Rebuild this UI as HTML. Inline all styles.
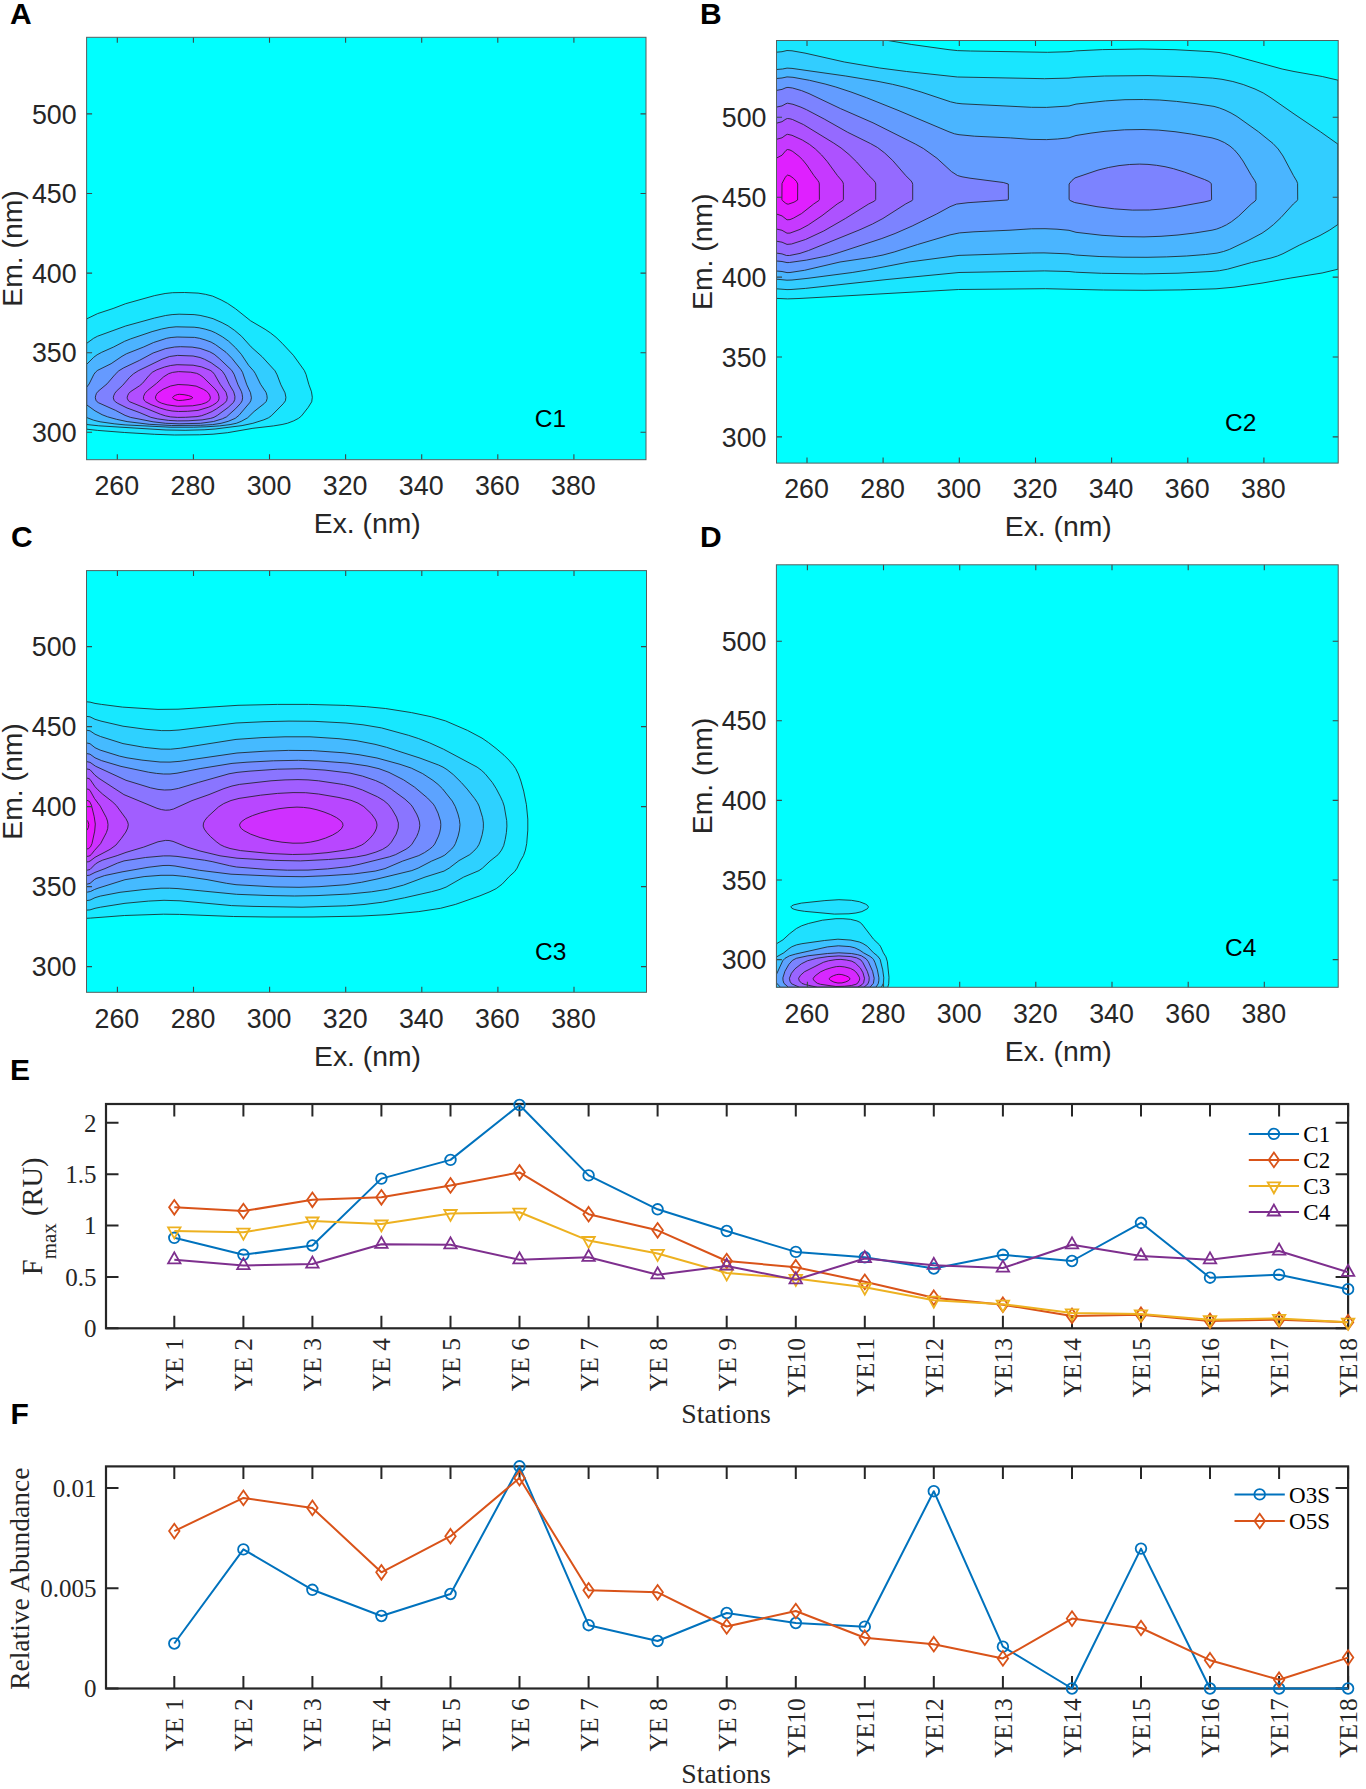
<!DOCTYPE html><html><head><meta charset="utf-8"><style>html,body{margin:0;padding:0;background:#fff;}svg{display:block;}</style></head><body>
<svg width="1366" height="1789" viewBox="0 0 1366 1789">
<rect width="1366" height="1789" fill="#fff"/>
<g font-family="Liberation Sans, sans-serif" font-size="26.8" fill="#262626"><clipPath id="clipA"><rect x="86.6" y="37.3" width="559.4" height="422.4"/></clipPath><rect x="86.6" y="37.3" width="559.4" height="422.4" fill="#00ffff"/><g clip-path="url(#clipA)"><path d="M199.6 434.8L174.6 435.0L154.6 434.3L124.6 432.5L97.6 430.4L86.6 429.2L86.2 397.8L86.6 318.9L97.6 313.6L113.1 308.5L125.6 303.7L154.6 295.6L165.1 293.5L172.6 292.7L184.6 292.5L198.1 293.1L205.4 294.3L212.6 296.1L221.1 299.9L227.6 303.4L235.6 308.8L250.6 320.8L265.1 329.3L270.6 333.0L276.0 337.3L282.2 343.3L293.4 355.3L304.2 370.3L306.0 374.3L308.8 384.3L311.5 391.8L312.3 397.3L311.7 401.8L308.1 407.5L301.6 415.8L298.6 418.3L293.6 420.9L287.6 423.2L282.1 424.5L273.6 425.9L252.9 428.3L227.6 432.7L213.1 434.2L199.6 434.8Z" fill="#19e6ff" fill-rule="evenodd"/><path d="M204.1 429.8L185.1 430.3L166.1 430.0L98.7 425.8L86.6 424.5L86.3 397.8L86.6 343.4L93.6 338.3L97.6 336.2L125.6 326.0L154.6 318.0L165.6 315.5L172.1 314.6L179.1 314.2L194.1 314.6L200.1 315.4L207.1 317.0L213.1 318.7L222.1 322.7L228.1 325.9L234.6 330.4L241.6 336.3L251.1 346.9L262.2 356.8L275.0 370.8L277.1 374.8L280.9 384.8L285.0 392.8L285.9 397.3L285.4 400.8L283.2 403.8L271.3 415.8L268.5 417.8L263.9 419.8L252.9 423.3L242.1 425.6L215.1 429.0L204.1 429.8Z" fill="#32cdff" fill-rule="evenodd"/><path d="M206.1 426.8L193.6 427.2L170.1 427.2L125.1 424.9L114.2 423.8L100.1 421.8L93.6 420.2L86.6 417.5L86.6 364.4L93.7 357.3L97.1 354.8L101.7 352.3L113.6 347.0L124.6 341.3L130.6 338.9L152.1 331.6L161.6 329.0L169.1 327.5L176.1 326.8L194.1 327.2L199.1 327.8L205.1 329.1L211.1 330.9L215.4 332.8L222.6 336.9L228.6 341.2L235.6 347.8L241.3 354.3L248.6 365.3L253.5 370.8L255.2 373.3L260.6 384.3L266.0 392.3L266.9 395.3L267.2 398.3L266.3 401.3L264.5 403.3L254.1 411.5L247.6 417.8L241.3 421.3L236.3 423.3L230.1 424.6L219.6 425.9L206.1 426.8Z" fill="#4cb3ff" fill-rule="evenodd"/><path d="M200.6 425.3L171.6 425.5L149.3 424.3L127.1 421.6L116.5 419.3L107.5 416.8L102.1 414.7L95.1 410.9L86.6 404.8L86.6 387.3L89.1 384.0L93.9 374.3L95.6 372.1L97.7 370.3L111.1 363.7L122.0 356.3L126.4 353.8L143.6 347.0L153.6 342.5L166.6 338.3L171.1 337.5L177.1 337.0L194.6 337.4L199.6 338.3L205.1 339.9L211.1 342.1L215.6 344.7L226.0 352.3L231.9 358.3L240.7 369.3L242.5 372.3L246.8 384.8L250.5 392.8L251.4 397.8L250.8 400.8L249.6 402.8L239.0 415.3L235.3 418.3L228.3 421.3L221.1 423.3L212.6 424.6L200.6 425.3Z" fill="#659aff" fill-rule="evenodd"/><path d="M200.6 423.3L179.1 423.8L165.7 423.3L153.1 421.8L130.6 417.4L125.1 415.4L115.4 410.3L98.6 402.8L96.6 401.3L96.0 400.3L95.3 397.8L95.6 395.8L96.5 393.3L98.1 391.3L107.1 383.8L115.2 374.3L118.8 370.8L123.6 367.9L139.6 360.3L153.1 353.0L165.6 348.6L174.6 347.0L180.6 346.7L192.1 347.1L200.1 348.4L209.6 351.7L214.1 354.2L219.6 358.8L231.7 370.3L234.1 374.3L238.0 384.8L241.5 391.8L242.2 394.3L242.6 397.8L242.1 400.8L240.6 403.3L235.6 408.7L226.6 416.8L222.4 418.8L213.6 421.5L200.6 423.3Z" fill="#7e81ff" fill-rule="evenodd"/><path d="M188.1 420.8L177.6 420.9L168.6 420.4L157.6 418.9L150.8 417.3L139.1 412.4L127.1 408.0L117.7 403.3L115.4 401.8L114.1 400.3L113.3 397.8L113.7 395.8L114.8 393.3L116.3 391.3L122.7 385.3L129.6 377.3L133.5 373.8L138.2 370.8L162.1 359.2L169.6 356.5L177.6 355.4L193.1 356.0L200.1 357.5L204.6 359.3L211.1 362.7L219.6 368.8L222.4 371.3L225.1 375.3L229.5 384.8L233.7 391.8L234.9 396.3L234.8 399.3L233.6 402.3L228.3 407.3L217.5 415.3L214.0 417.3L210.6 418.4L202.1 419.9L188.1 420.8Z" fill="#9768ff" fill-rule="evenodd"/><path d="M185.6 417.3L177.6 417.4L170.6 416.9L165.6 415.9L160.6 414.3L129.8 401.8L128.5 400.8L127.4 398.8L127.2 397.3L127.6 395.8L128.6 393.7L130.3 391.8L139.5 385.8L142.5 383.3L149.2 375.3L152.3 372.3L156.8 369.8L164.6 367.0L170.6 365.5L177.1 364.7L193.1 365.2L201.6 366.9L210.2 370.3L212.4 371.8L214.5 374.3L220.2 384.3L226.0 392.3L227.3 397.3L226.6 400.8L224.4 403.3L216.6 408.8L212.1 411.5L206.6 413.9L201.6 415.7L197.1 416.6L185.6 417.3Z" fill="#b14eff" fill-rule="evenodd"/><path d="M187.6 411.3L178.6 411.5L172.1 411.0L166.6 410.0L159.6 407.9L151.1 404.6L145.7 401.8L144.6 400.8L143.5 398.8L143.6 396.3L145.0 393.3L147.8 390.3L156.6 383.3L163.7 376.8L168.6 373.7L172.6 372.4L178.6 371.6L190.6 372.2L196.6 373.3L199.8 374.8L203.1 377.2L215.1 389.0L217.2 391.8L218.3 393.8L219.0 396.8L219.0 398.8L218.3 400.8L216.5 402.8L212.6 405.3L208.6 407.2L198.1 410.4L187.6 411.3Z" fill="#ca35ff" fill-rule="evenodd"/><path d="M192.6 405.8L177.6 406.3L167.1 404.8L161.6 403.2L157.6 401.3L155.7 398.8L155.5 396.8L156.7 394.3L157.9 392.8L163.1 389.2L170.6 386.0L178.1 384.5L188.1 385.0L196.1 386.1L203.6 389.4L206.5 391.3L208.6 393.3L209.9 395.8L210.4 397.8L209.7 399.8L208.4 401.3L205.7 402.8L201.3 404.3L192.6 405.8Z" fill="#e31cff" fill-rule="evenodd"/><path d="M182.6 400.3L178.6 400.5L176.1 400.0L173.5 398.8L172.7 397.8L172.7 397.3L173.6 396.3L175.6 395.2L177.6 394.5L179.6 394.3L184.1 394.7L188.6 395.6L191.9 396.8L192.7 397.8L191.6 398.6L189.3 399.3L182.6 400.3Z" fill="#fc03ff" fill-rule="evenodd"/><path d="M199.6 434.8L174.6 435.0L154.6 434.3L124.6 432.5L97.6 430.4L86.6 429.2L86.2 397.8L86.6 318.9L97.6 313.6L113.1 308.5L125.6 303.7L154.6 295.6L165.1 293.5L172.6 292.7L184.6 292.5L198.1 293.1L205.4 294.3L212.6 296.1L221.1 299.9L227.6 303.4L235.6 308.8L250.6 320.8L265.1 329.3L270.6 333.0L276.0 337.3L282.2 343.3L293.4 355.3L304.2 370.3L306.0 374.3L308.8 384.3L311.5 391.8L312.3 397.3L311.7 401.8L308.1 407.5L301.6 415.8L298.6 418.3L293.6 420.9L287.6 423.2L282.1 424.5L273.6 425.9L252.9 428.3L227.6 432.7L213.1 434.2L199.6 434.8ZM204.1 429.8L185.1 430.3L166.1 430.0L98.7 425.8L86.6 424.5L86.3 397.8L86.6 343.4L93.6 338.3L97.6 336.2L125.6 326.0L154.6 318.0L165.6 315.5L172.1 314.6L179.1 314.2L194.1 314.6L200.1 315.4L207.1 317.0L213.1 318.7L222.1 322.7L228.1 325.9L234.6 330.4L241.6 336.3L251.1 346.9L262.2 356.8L275.0 370.8L277.1 374.8L280.9 384.8L285.0 392.8L285.9 397.3L285.4 400.8L283.2 403.8L271.3 415.8L268.5 417.8L263.9 419.8L252.9 423.3L242.1 425.6L215.1 429.0L204.1 429.8ZM206.1 426.8L193.6 427.2L170.1 427.2L125.1 424.9L114.2 423.8L100.1 421.8L93.6 420.2L86.6 417.5L86.6 364.4L93.7 357.3L97.1 354.8L101.7 352.3L113.6 347.0L124.6 341.3L130.6 338.9L152.1 331.6L161.6 329.0L169.1 327.5L176.1 326.8L194.1 327.2L199.1 327.8L205.1 329.1L211.1 330.9L215.4 332.8L222.6 336.9L228.6 341.2L235.6 347.8L241.3 354.3L248.6 365.3L253.5 370.8L255.2 373.3L260.6 384.3L266.0 392.3L266.9 395.3L267.2 398.3L266.3 401.3L264.5 403.3L254.1 411.5L247.6 417.8L241.3 421.3L236.3 423.3L230.1 424.6L219.6 425.9L206.1 426.8ZM200.6 425.3L171.6 425.5L149.3 424.3L127.1 421.6L116.5 419.3L107.5 416.8L102.1 414.7L95.1 410.9L86.6 404.8L86.6 387.3L89.1 384.0L93.9 374.3L95.6 372.1L97.7 370.3L111.1 363.7L122.0 356.3L126.4 353.8L143.6 347.0L153.6 342.5L166.6 338.3L171.1 337.5L177.1 337.0L194.6 337.4L199.6 338.3L205.1 339.9L211.1 342.1L215.6 344.7L226.0 352.3L231.9 358.3L240.7 369.3L242.5 372.3L246.8 384.8L250.5 392.8L251.4 397.8L250.8 400.8L249.6 402.8L239.0 415.3L235.3 418.3L228.3 421.3L221.1 423.3L212.6 424.6L200.6 425.3ZM200.6 423.3L179.1 423.8L165.7 423.3L153.1 421.8L130.6 417.4L125.1 415.4L115.4 410.3L98.6 402.8L96.6 401.3L96.0 400.3L95.3 397.8L95.6 395.8L96.5 393.3L98.1 391.3L107.1 383.8L115.2 374.3L118.8 370.8L123.6 367.9L139.6 360.3L153.1 353.0L165.6 348.6L174.6 347.0L180.6 346.7L192.1 347.1L200.1 348.4L209.6 351.7L214.1 354.2L219.6 358.8L231.7 370.3L234.1 374.3L238.0 384.8L241.5 391.8L242.2 394.3L242.6 397.8L242.1 400.8L240.6 403.3L235.6 408.7L226.6 416.8L222.4 418.8L213.6 421.5L200.6 423.3ZM188.1 420.8L177.6 420.9L168.6 420.4L157.6 418.9L150.8 417.3L139.1 412.4L127.1 408.0L117.7 403.3L115.4 401.8L114.1 400.3L113.3 397.8L113.7 395.8L114.8 393.3L116.3 391.3L122.7 385.3L129.6 377.3L133.5 373.8L138.2 370.8L162.1 359.2L169.6 356.5L177.6 355.4L193.1 356.0L200.1 357.5L204.6 359.3L211.1 362.7L219.6 368.8L222.4 371.3L225.1 375.3L229.5 384.8L233.7 391.8L234.9 396.3L234.8 399.3L233.6 402.3L228.3 407.3L217.5 415.3L214.0 417.3L210.6 418.4L202.1 419.9L188.1 420.8ZM185.6 417.3L177.6 417.4L170.6 416.9L165.6 415.9L160.6 414.3L129.8 401.8L128.5 400.8L127.4 398.8L127.2 397.3L127.6 395.8L128.6 393.7L130.3 391.8L139.5 385.8L142.5 383.3L149.2 375.3L152.3 372.3L156.8 369.8L164.6 367.0L170.6 365.5L177.1 364.7L193.1 365.2L201.6 366.9L210.2 370.3L212.4 371.8L214.5 374.3L220.2 384.3L226.0 392.3L227.3 397.3L226.6 400.8L224.4 403.3L216.6 408.8L212.1 411.5L206.6 413.9L201.6 415.7L197.1 416.6L185.6 417.3ZM187.6 411.3L178.6 411.5L172.1 411.0L166.6 410.0L159.6 407.9L151.1 404.6L145.7 401.8L144.6 400.8L143.5 398.8L143.6 396.3L145.0 393.3L147.8 390.3L156.6 383.3L163.7 376.8L168.6 373.7L172.6 372.4L178.6 371.6L190.6 372.2L196.6 373.3L199.8 374.8L203.1 377.2L215.1 389.0L217.2 391.8L218.3 393.8L219.0 396.8L219.0 398.8L218.3 400.8L216.5 402.8L212.6 405.3L208.6 407.2L198.1 410.4L187.6 411.3ZM192.6 405.8L177.6 406.3L167.1 404.8L161.6 403.2L157.6 401.3L155.7 398.8L155.5 396.8L156.7 394.3L157.9 392.8L163.1 389.2L170.6 386.0L178.1 384.5L188.1 385.0L196.1 386.1L203.6 389.4L206.5 391.3L208.6 393.3L209.9 395.8L210.4 397.8L209.7 399.8L208.4 401.3L205.7 402.8L201.3 404.3L192.6 405.8ZM182.6 400.3L178.6 400.5L176.1 400.0L173.5 398.8L172.7 397.8L172.7 397.3L173.6 396.3L175.6 395.2L177.6 394.5L179.6 394.3L184.1 394.7L188.6 395.6L191.9 396.8L192.7 397.8L191.6 398.6L189.3 399.3L182.6 400.3Z" fill="none" stroke="#1a1a1a" stroke-width="0.8" stroke-linejoin="round"/></g><path d="M117.3 459.7v-5.5M117.3 37.3v5.5M193.4 459.7v-5.5M193.4 37.3v5.5M269.5 459.7v-5.5M269.5 37.3v5.5M345.6 459.7v-5.5M345.6 37.3v5.5M421.7 459.7v-5.5M421.7 37.3v5.5M497.8 459.7v-5.5M497.8 37.3v5.5M573.9 459.7v-5.5M573.9 37.3v5.5M86.6 113.9h5.5M646.0 113.9h-5.5M86.6 193.5h5.5M646.0 193.5h-5.5M86.6 273.1h5.5M646.0 273.1h-5.5M86.6 352.7h5.5M646.0 352.7h-5.5M86.6 432.3h5.5M646.0 432.3h-5.5" stroke="#3a4a4a" stroke-width="1.1" fill="none"/><rect x="86.6" y="37.3" width="559.4" height="422.4" fill="none" stroke="#555f5f" stroke-width="1"/><text x="116.8" y="495.0" text-anchor="middle">260</text><text x="192.9" y="495.0" text-anchor="middle">280</text><text x="269.0" y="495.0" text-anchor="middle">300</text><text x="345.1" y="495.0" text-anchor="middle">320</text><text x="421.2" y="495.0" text-anchor="middle">340</text><text x="497.3" y="495.0" text-anchor="middle">360</text><text x="573.4" y="495.0" text-anchor="middle">380</text><text x="76.6" y="123.5" text-anchor="end">500</text><text x="76.6" y="203.1" text-anchor="end">450</text><text x="76.6" y="282.7" text-anchor="end">400</text><text x="76.6" y="362.3" text-anchor="end">350</text><text x="76.6" y="441.9" text-anchor="end">300</text><text x="367.3" y="533.0" text-anchor="middle" font-size="28.3">Ex. (nm)</text><text transform="translate(22.0,248.5) rotate(-90)" text-anchor="middle" font-size="28.3">Em. (nm)</text><text x="534.7" y="427.3" font-size="24.5" fill="#000">C1</text><text x="10" y="23.6" font-size="30" font-weight="bold" fill="#000">A</text></g>
<g font-family="Liberation Sans, sans-serif" font-size="26.8" fill="#262626"><clipPath id="clipB"><rect x="776.5" y="40.5" width="561.7" height="422.6"/></clipPath><rect x="776.5" y="40.5" width="561.7" height="422.6" fill="#00ffff"/><g clip-path="url(#clipB)"><path d="M799.0 298.5L787.5 298.9L776.5 298.4L776.1 273.0L776.1 185.0L776.1 78.5L776.5 40.3L888.1 40.5L911.8 44.5L949.0 49.7L957.5 50.6L970.5 51.0L1047.5 52.3L1069.0 51.7L1075.5 50.9L1102.5 49.6L1142.0 49.0L1175.0 49.7L1210.0 51.6L1219.0 52.5L1228.5 54.3L1282.1 69.0L1294.0 71.5L1322.3 76.5L1338.0 80.2L1338.3 184.5L1338.0 269.2L1322.1 273.0L1290.9 278.0L1262.0 283.1L1234.0 287.2L1216.0 288.8L1180.5 289.9L1145.0 290.3L1103.5 290.0L1045.5 288.7L958.5 289.5L799.0 298.5Z" fill="#19e6ff" fill-rule="evenodd"/><path d="M791.0 289.5L787.0 289.6L776.5 288.8L776.1 185.0L776.5 52.2L782.0 51.7L787.0 50.5L792.0 50.8L805.0 53.1L844.4 62.0L879.7 68.0L906.6 71.5L957.5 77.0L1044.5 78.7L1069.0 78.1L1076.0 77.3L1104.5 76.0L1148.0 75.6L1190.5 76.8L1212.5 78.1L1222.0 79.3L1232.8 81.5L1243.2 84.5L1255.0 89.0L1263.3 93.0L1270.0 97.2L1295.0 114.6L1320.5 131.8L1338.0 144.2L1338.0 224.4L1329.8 230.0L1320.0 235.5L1299.5 245.1L1283.0 253.7L1277.5 256.0L1271.0 258.0L1251.5 262.5L1227.5 269.2L1219.5 270.7L1211.0 271.5L1178.0 273.2L1143.5 273.9L1101.5 273.3L1075.5 272.2L1069.0 271.5L1044.5 270.9L959.0 272.5L887.0 279.5L805.5 288.4L791.0 289.5Z" fill="#32cdff" fill-rule="evenodd"/><path d="M792.0 280.0L787.0 280.2L776.5 279.2L776.2 184.5L776.5 69.5L782.5 69.0L787.0 68.1L792.0 68.4L845.7 76.0L877.0 81.2L892.5 84.3L905.8 87.5L921.1 92.0L950.5 101.8L956.5 103.2L962.0 103.8L1031.5 107.3L1046.5 107.4L1069.0 106.0L1076.0 104.1L1105.5 100.9L1125.0 99.7L1143.5 99.5L1159.5 100.0L1176.5 101.4L1196.0 103.7L1214.0 106.4L1219.5 108.0L1225.0 110.1L1231.0 113.0L1237.0 116.5L1258.5 131.8L1273.0 143.5L1278.2 149.0L1283.0 156.0L1293.4 175.5L1296.7 181.0L1297.6 183.5L1297.7 199.5L1297.3 200.5L1293.3 204.0L1281.0 217.5L1273.6 224.5L1268.0 229.0L1262.0 233.2L1248.2 240.5L1229.5 249.4L1223.5 251.5L1217.0 253.1L1205.6 254.5L1186.6 256.0L1166.5 256.9L1147.0 257.3L1123.0 257.2L1099.1 256.5L1075.5 255.0L1069.0 253.9L1044.0 252.9L1031.5 253.0L959.0 255.4L909.0 262.0L870.4 269.5L852.2 272.5L808.0 278.3L792.0 280.0Z" fill="#4ab5ff" fill-rule="evenodd"/><path d="M790.0 272.5L787.0 272.6L782.0 271.5L776.5 271.0L776.2 184.5L776.5 78.5L782.0 78.0L787.0 76.9L793.0 77.3L809.5 80.3L825.1 84.0L835.8 87.0L851.0 92.0L866.5 97.7L898.0 110.3L949.0 131.8L954.5 133.8L959.0 134.7L974.5 136.2L1010.5 137.9L1031.0 139.4L1046.5 139.6L1057.5 139.0L1069.0 137.8L1076.0 135.5L1091.0 133.1L1105.0 131.3L1124.5 129.8L1143.0 129.5L1158.5 130.1L1175.0 131.7L1191.5 134.1L1212.0 137.9L1218.0 139.7L1224.5 142.6L1230.0 146.1L1234.5 150.0L1238.8 155.0L1243.0 161.0L1251.4 175.5L1254.7 180.5L1256.0 183.5L1256.0 199.5L1255.2 201.0L1251.3 204.0L1238.5 216.3L1231.5 221.7L1226.5 224.8L1221.5 227.2L1216.8 229.0L1212.0 230.2L1194.7 233.0L1178.0 235.0L1161.0 236.3L1144.0 236.9L1123.0 236.6L1102.0 235.3L1076.0 232.3L1069.0 230.3L1057.0 229.2L1045.0 228.7L1031.5 228.8L1010.0 230.2L974.0 231.8L959.5 232.9L950.0 234.9L917.6 244.5L894.2 252.0L883.0 255.0L871.5 257.3L840.0 262.0L804.5 270.3L790.0 272.5Z" fill="#639cff" fill-rule="evenodd"/><path d="M789.5 262.5L787.0 262.6L782.0 261.5L776.5 261.0L776.5 90.4L782.0 89.4L786.0 87.7L788.0 87.4L792.5 88.0L801.5 90.6L809.0 93.6L840.5 108.6L873.0 122.8L915.3 144.0L923.4 148.5L937.0 158.3L951.5 171.6L957.5 175.5L962.0 176.8L970.0 178.2L1003.3 182.5L1008.3 184.0L1008.4 199.5L1007.3 200.0L968.0 202.7L956.5 204.1L950.0 206.7L936.6 214.0L912.2 226.0L895.1 233.5L881.9 238.5L839.2 252.5L828.5 255.7L806.5 260.1L789.5 262.5ZM1149.5 210.0L1132.5 210.1L1114.5 208.9L1097.0 206.7L1074.5 202.5L1070.2 200.5L1069.1 199.5L1069.1 184.0L1071.9 180.5L1075.0 177.9L1098.0 170.1L1108.5 167.5L1119.0 165.6L1129.5 164.5L1139.5 164.1L1148.0 164.4L1156.5 165.3L1165.0 166.7L1173.5 168.7L1184.5 172.1L1204.5 179.5L1208.9 181.5L1211.3 183.5L1211.6 199.5L1210.3 200.5L1204.1 202.0L1175.0 207.3L1162.0 209.0L1149.5 210.0Z" fill="#7c83ff" fill-rule="evenodd"/><path d="M789.5 255.5L786.5 255.5L782.0 253.9L776.5 253.1L776.5 107.1L782.0 105.9L786.0 103.7L787.5 103.2L793.0 104.3L801.0 107.2L806.5 109.7L824.2 119.0L847.5 132.2L870.4 143.5L877.5 147.5L884.7 153.0L892.7 160.5L905.7 175.5L911.2 181.0L912.4 183.0L912.7 184.5L912.7 199.5L912.2 200.5L905.6 204.0L882.9 218.5L872.5 224.0L860.0 229.7L808.6 250.5L800.0 253.4L789.5 255.5Z" fill="#956aff" fill-rule="evenodd"/><path d="M791.5 244.0L787.0 244.4L782.0 242.2L776.5 241.2L776.5 123.2L782.0 121.7L786.0 119.0L787.5 118.5L790.0 118.8L792.5 119.5L803.5 124.6L833.6 143.0L841.1 148.0L849.0 154.5L856.7 162.0L868.8 175.5L873.9 180.5L875.3 182.5L875.7 184.0L875.7 199.5L874.6 201.0L868.6 204.0L845.4 218.5L823.7 231.0L805.5 239.5L791.5 244.0Z" fill="#ad52ff" fill-rule="evenodd"/><path d="M790.0 233.1L787.0 233.2L782.0 230.3L776.5 229.0L776.5 139.3L782.0 137.8L786.0 134.9L787.5 134.3L792.0 135.3L802.3 140.0L809.5 144.4L815.4 149.0L821.6 155.0L827.2 161.5L837.4 175.5L842.1 181.0L843.2 183.0L843.4 184.5L843.4 199.5L842.9 200.5L837.2 204.0L822.0 215.7L808.2 225.0L800.0 229.4L790.0 233.1Z" fill="#c639ff" fill-rule="evenodd"/><path d="M790.0 219.6L787.0 219.8L782.0 215.9L776.5 214.0L776.5 158.1L782.0 155.2L786.0 150.4L787.5 149.5L790.0 150.0L792.8 151.5L799.0 156.3L802.5 159.7L806.8 165.0L813.9 175.5L817.8 180.5L819.0 182.5L819.3 184.0L819.4 199.5L818.9 200.5L813.7 204.0L801.5 213.6L793.5 218.1L790.0 219.6Z" fill="#df20ff" fill-rule="evenodd"/><path d="M788.5 204.1L787.0 204.0L785.5 203.1L782.4 200.5L781.9 199.5L782.0 183.5L785.0 177.8L786.5 175.8L787.5 175.1L790.0 175.8L793.5 178.3L796.5 181.5L797.7 184.0L797.6 200.0L794.0 202.2L788.5 204.1Z" fill="#f807ff" fill-rule="evenodd"/><path d="M799.0 298.5L787.5 298.9L776.5 298.4L776.1 273.0L776.1 185.0L776.1 78.5L776.5 40.3L888.1 40.5L911.8 44.5L949.0 49.7L957.5 50.6L970.5 51.0L1047.5 52.3L1069.0 51.7L1075.5 50.9L1102.5 49.6L1142.0 49.0L1175.0 49.7L1210.0 51.6L1219.0 52.5L1228.5 54.3L1282.1 69.0L1294.0 71.5L1322.3 76.5L1338.0 80.2L1338.3 184.5L1338.0 269.2L1322.1 273.0L1290.9 278.0L1262.0 283.1L1234.0 287.2L1216.0 288.8L1180.5 289.9L1145.0 290.3L1103.5 290.0L1045.5 288.7L958.5 289.5L799.0 298.5ZM791.0 289.5L787.0 289.6L776.5 288.8L776.1 185.0L776.5 52.2L782.0 51.7L787.0 50.5L792.0 50.8L805.0 53.1L844.4 62.0L879.7 68.0L906.6 71.5L957.5 77.0L1044.5 78.7L1069.0 78.1L1076.0 77.3L1104.5 76.0L1148.0 75.6L1190.5 76.8L1212.5 78.1L1222.0 79.3L1232.8 81.5L1243.2 84.5L1255.0 89.0L1263.3 93.0L1270.0 97.2L1295.0 114.6L1320.5 131.8L1338.0 144.2L1338.0 224.4L1329.8 230.0L1320.0 235.5L1299.5 245.1L1283.0 253.7L1277.5 256.0L1271.0 258.0L1251.5 262.5L1227.5 269.2L1219.5 270.7L1211.0 271.5L1178.0 273.2L1143.5 273.9L1101.5 273.3L1075.5 272.2L1069.0 271.5L1044.5 270.9L959.0 272.5L887.0 279.5L805.5 288.4L791.0 289.5ZM792.0 280.0L787.0 280.2L776.5 279.2L776.2 184.5L776.5 69.5L782.5 69.0L787.0 68.1L792.0 68.4L845.7 76.0L877.0 81.2L892.5 84.3L905.8 87.5L921.1 92.0L950.5 101.8L956.5 103.2L962.0 103.8L1031.5 107.3L1046.5 107.4L1069.0 106.0L1076.0 104.1L1105.5 100.9L1125.0 99.7L1143.5 99.5L1159.5 100.0L1176.5 101.4L1196.0 103.7L1214.0 106.4L1219.5 108.0L1225.0 110.1L1231.0 113.0L1237.0 116.5L1258.5 131.8L1273.0 143.5L1278.2 149.0L1283.0 156.0L1293.4 175.5L1296.7 181.0L1297.6 183.5L1297.7 199.5L1297.3 200.5L1293.3 204.0L1281.0 217.5L1273.6 224.5L1268.0 229.0L1262.0 233.2L1248.2 240.5L1229.5 249.4L1223.5 251.5L1217.0 253.1L1205.6 254.5L1186.6 256.0L1166.5 256.9L1147.0 257.3L1123.0 257.2L1099.1 256.5L1075.5 255.0L1069.0 253.9L1044.0 252.9L1031.5 253.0L959.0 255.4L909.0 262.0L870.4 269.5L852.2 272.5L808.0 278.3L792.0 280.0ZM790.0 272.5L787.0 272.6L782.0 271.5L776.5 271.0L776.2 184.5L776.5 78.5L782.0 78.0L787.0 76.9L793.0 77.3L809.5 80.3L825.1 84.0L835.8 87.0L851.0 92.0L866.5 97.7L898.0 110.3L949.0 131.8L954.5 133.8L959.0 134.7L974.5 136.2L1010.5 137.9L1031.0 139.4L1046.5 139.6L1057.5 139.0L1069.0 137.8L1076.0 135.5L1091.0 133.1L1105.0 131.3L1124.5 129.8L1143.0 129.5L1158.5 130.1L1175.0 131.7L1191.5 134.1L1212.0 137.9L1218.0 139.7L1224.5 142.6L1230.0 146.1L1234.5 150.0L1238.8 155.0L1243.0 161.0L1251.4 175.5L1254.7 180.5L1256.0 183.5L1256.0 199.5L1255.2 201.0L1251.3 204.0L1238.5 216.3L1231.5 221.7L1226.5 224.8L1221.5 227.2L1216.8 229.0L1212.0 230.2L1194.7 233.0L1178.0 235.0L1161.0 236.3L1144.0 236.9L1123.0 236.6L1102.0 235.3L1076.0 232.3L1069.0 230.3L1057.0 229.2L1045.0 228.7L1031.5 228.8L1010.0 230.2L974.0 231.8L959.5 232.9L950.0 234.9L917.6 244.5L894.2 252.0L883.0 255.0L871.5 257.3L840.0 262.0L804.5 270.3L790.0 272.5ZM789.5 262.5L787.0 262.6L782.0 261.5L776.5 261.0L776.5 90.4L782.0 89.4L786.0 87.7L788.0 87.4L792.5 88.0L801.5 90.6L809.0 93.6L840.5 108.6L873.0 122.8L915.3 144.0L923.4 148.5L937.0 158.3L951.5 171.6L957.5 175.5L962.0 176.8L970.0 178.2L1003.3 182.5L1008.3 184.0L1008.4 199.5L1007.3 200.0L968.0 202.7L956.5 204.1L950.0 206.7L936.6 214.0L912.2 226.0L895.1 233.5L881.9 238.5L839.2 252.5L828.5 255.7L806.5 260.1L789.5 262.5ZM1149.5 210.0L1132.5 210.1L1114.5 208.9L1097.0 206.7L1074.5 202.5L1070.2 200.5L1069.1 199.5L1069.1 184.0L1071.9 180.5L1075.0 177.9L1098.0 170.1L1108.5 167.5L1119.0 165.6L1129.5 164.5L1139.5 164.1L1148.0 164.4L1156.5 165.3L1165.0 166.7L1173.5 168.7L1184.5 172.1L1204.5 179.5L1208.9 181.5L1211.3 183.5L1211.6 199.5L1210.3 200.5L1204.1 202.0L1175.0 207.3L1162.0 209.0L1149.5 210.0ZM789.5 255.5L786.5 255.5L782.0 253.9L776.5 253.1L776.5 107.1L782.0 105.9L786.0 103.7L787.5 103.2L793.0 104.3L801.0 107.2L806.5 109.7L824.2 119.0L847.5 132.2L870.4 143.5L877.5 147.5L884.7 153.0L892.7 160.5L905.7 175.5L911.2 181.0L912.4 183.0L912.7 184.5L912.7 199.5L912.2 200.5L905.6 204.0L882.9 218.5L872.5 224.0L860.0 229.7L808.6 250.5L800.0 253.4L789.5 255.5ZM791.5 244.0L787.0 244.4L782.0 242.2L776.5 241.2L776.5 123.2L782.0 121.7L786.0 119.0L787.5 118.5L790.0 118.8L792.5 119.5L803.5 124.6L833.6 143.0L841.1 148.0L849.0 154.5L856.7 162.0L868.8 175.5L873.9 180.5L875.3 182.5L875.7 184.0L875.7 199.5L874.6 201.0L868.6 204.0L845.4 218.5L823.7 231.0L805.5 239.5L791.5 244.0ZM790.0 233.1L787.0 233.2L782.0 230.3L776.5 229.0L776.5 139.3L782.0 137.8L786.0 134.9L787.5 134.3L792.0 135.3L802.3 140.0L809.5 144.4L815.4 149.0L821.6 155.0L827.2 161.5L837.4 175.5L842.1 181.0L843.2 183.0L843.4 184.5L843.4 199.5L842.9 200.5L837.2 204.0L822.0 215.7L808.2 225.0L800.0 229.4L790.0 233.1ZM790.0 219.6L787.0 219.8L782.0 215.9L776.5 214.0L776.5 158.1L782.0 155.2L786.0 150.4L787.5 149.5L790.0 150.0L792.8 151.5L799.0 156.3L802.5 159.7L806.8 165.0L813.9 175.5L817.8 180.5L819.0 182.5L819.3 184.0L819.4 199.5L818.9 200.5L813.7 204.0L801.5 213.6L793.5 218.1L790.0 219.6ZM788.5 204.1L787.0 204.0L785.5 203.1L782.4 200.5L781.9 199.5L782.0 183.5L785.0 177.8L786.5 175.8L787.5 175.1L790.0 175.8L793.5 178.3L796.5 181.5L797.7 184.0L797.6 200.0L794.0 202.2L788.5 204.1Z" fill="none" stroke="#1a1a1a" stroke-width="0.8" stroke-linejoin="round"/></g><path d="M807.0 463.1v-5.5M807.0 40.5v5.5M883.1 463.1v-5.5M883.1 40.5v5.5M959.3 463.1v-5.5M959.3 40.5v5.5M1035.5 463.1v-5.5M1035.5 40.5v5.5M1111.6 463.1v-5.5M1111.6 40.5v5.5M1187.8 463.1v-5.5M1187.8 40.5v5.5M1263.9 463.1v-5.5M1263.9 40.5v5.5M776.5 117.3h5.5M1338.2 117.3h-5.5M776.5 197.2h5.5M1338.2 197.2h-5.5M776.5 277.1h5.5M1338.2 277.1h-5.5M776.5 357.0h5.5M1338.2 357.0h-5.5M776.5 436.9h5.5M1338.2 436.9h-5.5" stroke="#3a4a4a" stroke-width="1.1" fill="none"/><rect x="776.5" y="40.5" width="561.7" height="422.6" fill="none" stroke="#555f5f" stroke-width="1"/><text x="806.5" y="498.4" text-anchor="middle">260</text><text x="882.6" y="498.4" text-anchor="middle">280</text><text x="958.8" y="498.4" text-anchor="middle">300</text><text x="1035.0" y="498.4" text-anchor="middle">320</text><text x="1111.1" y="498.4" text-anchor="middle">340</text><text x="1187.2" y="498.4" text-anchor="middle">360</text><text x="1263.4" y="498.4" text-anchor="middle">380</text><text x="766.5" y="126.9" text-anchor="end">500</text><text x="766.5" y="206.8" text-anchor="end">450</text><text x="766.5" y="286.7" text-anchor="end">400</text><text x="766.5" y="366.6" text-anchor="end">350</text><text x="766.5" y="446.5" text-anchor="end">300</text><text x="1058.3" y="536.4" text-anchor="middle" font-size="28.3">Ex. (nm)</text><text transform="translate(711.9,251.8) rotate(-90)" text-anchor="middle" font-size="28.3">Em. (nm)</text><text x="1225" y="431" font-size="24.5" fill="#000">C2</text><text x="700" y="24.2" font-size="30" font-weight="bold" fill="#000">B</text></g>
<g font-family="Liberation Sans, sans-serif" font-size="26.8" fill="#262626"><clipPath id="clipC"><rect x="86.5" y="570.6" width="560.0" height="421.69999999999993"/></clipPath><rect x="86.5" y="570.6" width="560.0" height="421.69999999999993" fill="#00ffff"/><g clip-path="url(#clipC)"><path d="M90.5 918.1L86.5 918.3L86.3 912.1L86.1 771.6L86.5 701.8L90.0 702.1L95.0 703.4L101.5 704.4L122.5 707.1L158.0 709.4L178.0 709.2L238.0 705.3L277.5 704.4L308.5 704.4L345.5 705.4L366.5 706.7L385.5 708.5L411.5 712.6L431.5 716.8L445.5 720.9L467.5 730.4L482.0 738.1L488.5 742.6L496.0 748.4L504.0 755.2L509.0 760.2L513.3 765.1L515.7 768.6L518.4 774.1L520.9 781.1L523.7 791.1L526.4 804.6L527.8 819.1L527.8 830.1L526.7 843.6L525.4 850.1L523.5 855.6L520.3 861.1L517.1 868.1L514.7 871.6L509.2 876.6L502.2 884.1L496.2 888.6L490.0 891.7L480.0 895.8L455.5 904.4L440.5 908.3L418.8 911.6L387.0 914.7L360.0 916.1L313.0 917.0L269.0 917.0L233.5 916.5L179.5 914.4L163.5 914.2L124.5 915.5L90.5 918.1Z" fill="#17e8ff" fill-rule="evenodd"/><path d="M87.0 910.1L86.5 910.1L86.4 907.6L86.1 869.1L86.5 716.4L90.0 716.8L95.0 719.3L101.0 721.1L123.0 726.2L146.0 729.3L161.5 730.6L170.0 730.6L179.0 730.0L236.0 723.0L264.0 721.7L289.0 721.1L314.0 721.3L346.0 723.0L363.0 724.8L381.5 727.9L408.5 735.3L418.6 738.6L429.5 742.8L443.5 749.2L477.1 767.1L481.2 770.1L485.0 773.6L492.4 782.6L496.2 788.6L500.5 796.8L502.7 801.6L504.2 806.1L506.7 820.6L506.9 826.1L506.4 832.6L505.2 839.6L503.7 845.6L501.5 850.1L498.2 854.6L490.0 861.1L482.5 868.1L479.0 870.6L463.6 877.1L446.1 887.1L440.0 889.4L431.5 891.7L404.5 897.8L382.5 902.2L364.0 904.5L346.5 905.8L302.0 907.2L253.0 906.4L231.5 905.6L180.0 900.8L164.0 900.3L148.5 901.1L125.0 903.3L100.5 907.2L95.0 908.3L90.0 909.9L87.0 910.1Z" fill="#2ed1ff" fill-rule="evenodd"/><path d="M86.5 900.6L86.1 825.1L86.5 730.2L90.0 730.8L95.0 734.2L100.5 736.5L123.0 743.6L144.5 747.4L161.0 749.1L170.5 749.2L180.5 748.2L236.0 739.4L262.0 737.6L285.0 736.8L310.0 736.8L339.0 738.7L356.0 740.6L375.0 744.3L386.5 747.3L420.0 758.1L438.5 765.0L443.0 767.1L447.0 769.6L453.3 774.6L461.4 782.6L467.2 789.1L474.7 798.6L477.4 802.6L479.1 806.1L482.6 817.6L483.4 823.1L483.3 828.6L482.2 834.6L480.3 841.1L478.9 844.6L477.0 847.6L473.8 851.1L469.8 854.6L459.0 860.6L449.2 868.1L444.0 871.1L425.0 877.1L403.5 885.1L387.5 889.3L371.5 891.8L349.5 894.0L317.0 895.6L294.5 896.0L268.0 895.5L236.5 894.3L178.0 888.6L169.5 888.2L161.0 888.2L144.0 889.5L120.0 892.3L100.3 896.1L95.0 897.7L90.0 900.1L86.5 900.6Z" fill="#45baff" fill-rule="evenodd"/><path d="M87.5 892.1L86.5 892.2L86.3 870.6L86.5 742.9L90.0 743.7L95.0 747.7L100.2 750.1L119.5 756.1L127.0 757.8L141.9 760.1L160.0 762.0L170.0 762.1L180.0 761.3L237.0 753.0L265.0 751.2L288.5 750.4L312.5 750.6L344.0 752.8L359.0 754.7L377.0 758.0L400.0 764.3L411.3 768.1L422.6 773.6L433.0 780.4L438.0 784.4L442.5 788.8L452.3 801.1L455.3 806.6L458.0 814.1L459.4 819.6L460.0 824.6L459.5 830.1L458.1 836.1L455.4 843.6L454.0 846.1L451.6 849.1L444.8 855.1L441.0 857.1L431.6 861.1L418.2 868.1L411.8 870.6L378.0 878.8L361.5 882.3L346.0 884.7L319.0 886.7L299.0 887.3L274.0 886.9L236.0 884.7L226.5 883.3L207.0 879.6L186.5 876.6L173.0 875.3L161.0 875.3L144.1 876.6L125.0 879.7L98.0 888.2L94.5 889.5L90.5 891.5L87.5 892.1Z" fill="#5ca3ff" fill-rule="evenodd"/><path d="M87.0 884.2L86.5 884.2L86.3 854.1L86.5 753.5L90.0 754.2L95.0 757.8L101.5 760.6L121.0 766.4L148.5 772.2L156.5 773.4L163.5 774.0L170.0 774.0L177.0 773.2L200.2 768.6L232.0 763.4L247.0 762.2L273.5 760.8L298.5 760.3L318.0 760.9L348.0 763.1L367.0 765.9L379.0 768.7L389.0 772.4L403.5 779.8L414.5 787.1L427.6 798.1L433.3 804.1L434.9 806.6L438.0 813.1L440.5 821.1L440.8 824.6L440.6 828.1L439.8 832.1L438.5 836.1L434.7 844.1L432.6 846.6L429.7 849.1L424.5 852.6L418.8 855.6L402.6 861.1L385.0 868.6L375.2 871.1L353.5 874.0L327.0 875.7L303.0 876.7L280.0 876.4L231.0 874.2L199.5 870.3L175.0 866.0L169.0 865.4L163.0 865.5L148.0 867.3L122.0 871.9L104.5 875.6L96.1 878.6L94.4 879.6L90.0 883.4L87.0 884.2Z" fill="#738cff" fill-rule="evenodd"/><path d="M89.5 875.2L86.5 875.6L86.5 761.6L90.0 762.3L95.5 766.2L126.0 780.3L150.5 787.8L158.0 789.4L164.5 790.0L171.0 789.8L178.5 788.4L198.5 782.4L229.0 773.8L237.0 772.4L249.0 771.2L277.5 769.2L302.5 768.7L325.0 770.1L350.0 773.1L362.5 776.1L375.7 780.6L383.3 784.1L391.5 789.3L404.9 799.1L410.9 804.6L412.7 807.1L416.7 814.1L418.4 818.1L419.5 822.1L419.8 825.6L419.3 829.1L418.3 832.6L416.6 836.6L411.7 844.6L409.0 847.1L406.0 849.2L395.7 854.6L389.5 856.8L359.0 864.4L348.3 866.6L327.5 868.9L308.0 870.1L287.5 870.2L265.0 869.3L236.5 867.0L229.5 865.7L212.1 861.6L204.5 860.2L177.0 856.4L170.0 855.9L163.5 855.9L145.5 857.5L124.0 860.9L117.5 863.1L105.0 868.6L95.0 872.4L89.5 875.2Z" fill="#8a75ff" fill-rule="evenodd"/><path d="M87.5 870.1L86.5 870.2L86.5 768.8L90.0 769.7L95.0 775.2L99.0 778.4L123.9 794.6L157.0 808.3L161.5 809.6L165.5 810.2L169.5 810.0L173.5 809.0L192.0 800.6L209.0 794.6L223.9 788.6L232.0 786.0L239.5 784.4L271.0 780.8L285.0 779.9L298.0 779.6L308.0 779.9L318.5 780.8L343.5 784.5L353.0 786.7L362.5 790.0L377.5 796.8L383.8 800.6L388.5 804.6L392.2 809.6L396.5 817.1L398.4 823.1L398.2 828.1L396.2 834.1L391.4 842.1L387.8 846.1L382.5 849.4L375.9 852.1L366.0 855.1L356.5 856.9L346.0 858.1L328.5 859.5L300.5 860.9L274.5 860.4L237.0 858.2L220.0 855.8L200.0 851.0L187.1 847.1L173.0 841.4L169.0 840.5L165.5 840.4L158.0 841.8L143.7 847.1L126.0 852.4L117.2 855.6L102.7 860.1L99.0 861.8L95.5 863.9L90.0 869.5L87.5 870.1Z" fill="#a15eff" fill-rule="evenodd"/><path d="M88.5 861.7L86.5 862.0L86.5 778.0L89.0 778.6L90.0 779.3L95.0 786.7L98.0 789.9L102.6 794.1L112.2 801.6L116.4 805.6L125.9 818.6L127.7 822.1L128.3 824.6L127.7 828.1L125.8 832.1L121.2 838.6L115.9 845.1L110.0 849.4L95.0 857.3L90.0 861.1L88.5 861.7ZM310.5 854.1L292.5 854.5L270.0 853.5L240.5 850.6L230.0 848.5L224.3 846.6L220.2 844.6L216.2 841.6L210.5 836.6L206.8 832.6L204.3 829.1L203.2 826.1L203.5 823.1L204.7 820.6L207.4 817.1L218.5 806.9L223.7 803.6L231.0 800.5L239.0 798.4L260.5 795.2L277.5 793.4L293.0 792.6L305.5 792.7L318.5 794.0L339.0 797.5L351.0 800.3L358.0 803.1L363.8 806.6L371.2 813.6L375.2 819.1L376.5 822.1L377.0 825.1L376.5 828.1L375.3 831.1L373.1 834.6L369.7 838.6L364.7 843.1L361.6 845.1L354.5 848.0L345.5 850.1L327.0 852.7L310.5 854.1Z" fill="#b847ff" fill-rule="evenodd"/><path d="M88.5 856.2L86.5 856.4L86.5 788.8L89.0 789.5L90.0 790.4L94.5 798.5L100.2 806.1L106.3 817.6L107.5 821.1L108.0 824.6L107.7 828.6L106.4 832.6L100.6 843.6L94.5 850.4L91.2 854.6L90.0 855.6L88.5 856.2ZM303.0 843.1L293.0 843.2L282.0 842.2L271.0 840.4L260.2 837.6L250.5 834.1L243.9 830.6L241.4 828.6L240.3 827.1L239.7 825.6L239.8 824.1L241.5 821.6L245.8 818.6L252.5 815.6L260.5 812.9L269.5 810.5L279.0 808.7L288.0 807.6L297.0 807.1L303.5 807.4L310.0 808.2L317.0 809.8L324.0 812.0L330.6 814.6L336.5 817.6L340.6 820.6L342.6 823.1L343.0 825.6L341.5 828.7L337.6 832.1L332.5 835.1L325.5 838.1L318.0 840.5L310.5 842.1L303.0 843.1Z" fill="#cf30ff" fill-rule="evenodd"/><path d="M88.5 848.6L86.5 849.1L86.5 800.1L89.5 801.4L91.4 805.1L94.2 816.6L95.3 824.1L94.7 831.1L92.0 843.5L90.5 846.9L88.5 848.6Z" fill="#e619ff" fill-rule="evenodd"/><path d="M87.0 830.1L86.5 830.5L86.5 819.9L88.0 821.6L88.8 824.6L88.4 827.6L87.0 830.1Z" fill="#fd02ff" fill-rule="evenodd"/><path d="M90.5 918.1L86.5 918.3L86.3 912.1L86.1 771.6L86.5 701.8L90.0 702.1L95.0 703.4L101.5 704.4L122.5 707.1L158.0 709.4L178.0 709.2L238.0 705.3L277.5 704.4L308.5 704.4L345.5 705.4L366.5 706.7L385.5 708.5L411.5 712.6L431.5 716.8L445.5 720.9L467.5 730.4L482.0 738.1L488.5 742.6L496.0 748.4L504.0 755.2L509.0 760.2L513.3 765.1L515.7 768.6L518.4 774.1L520.9 781.1L523.7 791.1L526.4 804.6L527.8 819.1L527.8 830.1L526.7 843.6L525.4 850.1L523.5 855.6L520.3 861.1L517.1 868.1L514.7 871.6L509.2 876.6L502.2 884.1L496.2 888.6L490.0 891.7L480.0 895.8L455.5 904.4L440.5 908.3L418.8 911.6L387.0 914.7L360.0 916.1L313.0 917.0L269.0 917.0L233.5 916.5L179.5 914.4L163.5 914.2L124.5 915.5L90.5 918.1ZM87.0 910.1L86.5 910.1L86.4 907.6L86.1 869.1L86.5 716.4L90.0 716.8L95.0 719.3L101.0 721.1L123.0 726.2L146.0 729.3L161.5 730.6L170.0 730.6L179.0 730.0L236.0 723.0L264.0 721.7L289.0 721.1L314.0 721.3L346.0 723.0L363.0 724.8L381.5 727.9L408.5 735.3L418.6 738.6L429.5 742.8L443.5 749.2L477.1 767.1L481.2 770.1L485.0 773.6L492.4 782.6L496.2 788.6L500.5 796.8L502.7 801.6L504.2 806.1L506.7 820.6L506.9 826.1L506.4 832.6L505.2 839.6L503.7 845.6L501.5 850.1L498.2 854.6L490.0 861.1L482.5 868.1L479.0 870.6L463.6 877.1L446.1 887.1L440.0 889.4L431.5 891.7L404.5 897.8L382.5 902.2L364.0 904.5L346.5 905.8L302.0 907.2L253.0 906.4L231.5 905.6L180.0 900.8L164.0 900.3L148.5 901.1L125.0 903.3L100.5 907.2L95.0 908.3L90.0 909.9L87.0 910.1ZM86.5 900.6L86.1 825.1L86.5 730.2L90.0 730.8L95.0 734.2L100.5 736.5L123.0 743.6L144.5 747.4L161.0 749.1L170.5 749.2L180.5 748.2L236.0 739.4L262.0 737.6L285.0 736.8L310.0 736.8L339.0 738.7L356.0 740.6L375.0 744.3L386.5 747.3L420.0 758.1L438.5 765.0L443.0 767.1L447.0 769.6L453.3 774.6L461.4 782.6L467.2 789.1L474.7 798.6L477.4 802.6L479.1 806.1L482.6 817.6L483.4 823.1L483.3 828.6L482.2 834.6L480.3 841.1L478.9 844.6L477.0 847.6L473.8 851.1L469.8 854.6L459.0 860.6L449.2 868.1L444.0 871.1L425.0 877.1L403.5 885.1L387.5 889.3L371.5 891.8L349.5 894.0L317.0 895.6L294.5 896.0L268.0 895.5L236.5 894.3L178.0 888.6L169.5 888.2L161.0 888.2L144.0 889.5L120.0 892.3L100.3 896.1L95.0 897.7L90.0 900.1L86.5 900.6ZM87.5 892.1L86.5 892.2L86.3 870.6L86.5 742.9L90.0 743.7L95.0 747.7L100.2 750.1L119.5 756.1L127.0 757.8L141.9 760.1L160.0 762.0L170.0 762.1L180.0 761.3L237.0 753.0L265.0 751.2L288.5 750.4L312.5 750.6L344.0 752.8L359.0 754.7L377.0 758.0L400.0 764.3L411.3 768.1L422.6 773.6L433.0 780.4L438.0 784.4L442.5 788.8L452.3 801.1L455.3 806.6L458.0 814.1L459.4 819.6L460.0 824.6L459.5 830.1L458.1 836.1L455.4 843.6L454.0 846.1L451.6 849.1L444.8 855.1L441.0 857.1L431.6 861.1L418.2 868.1L411.8 870.6L378.0 878.8L361.5 882.3L346.0 884.7L319.0 886.7L299.0 887.3L274.0 886.9L236.0 884.7L226.5 883.3L207.0 879.6L186.5 876.6L173.0 875.3L161.0 875.3L144.1 876.6L125.0 879.7L98.0 888.2L94.5 889.5L90.5 891.5L87.5 892.1ZM87.0 884.2L86.5 884.2L86.3 854.1L86.5 753.5L90.0 754.2L95.0 757.8L101.5 760.6L121.0 766.4L148.5 772.2L156.5 773.4L163.5 774.0L170.0 774.0L177.0 773.2L200.2 768.6L232.0 763.4L247.0 762.2L273.5 760.8L298.5 760.3L318.0 760.9L348.0 763.1L367.0 765.9L379.0 768.7L389.0 772.4L403.5 779.8L414.5 787.1L427.6 798.1L433.3 804.1L434.9 806.6L438.0 813.1L440.5 821.1L440.8 824.6L440.6 828.1L439.8 832.1L438.5 836.1L434.7 844.1L432.6 846.6L429.7 849.1L424.5 852.6L418.8 855.6L402.6 861.1L385.0 868.6L375.2 871.1L353.5 874.0L327.0 875.7L303.0 876.7L280.0 876.4L231.0 874.2L199.5 870.3L175.0 866.0L169.0 865.4L163.0 865.5L148.0 867.3L122.0 871.9L104.5 875.6L96.1 878.6L94.4 879.6L90.0 883.4L87.0 884.2ZM89.5 875.2L86.5 875.6L86.5 761.6L90.0 762.3L95.5 766.2L126.0 780.3L150.5 787.8L158.0 789.4L164.5 790.0L171.0 789.8L178.5 788.4L198.5 782.4L229.0 773.8L237.0 772.4L249.0 771.2L277.5 769.2L302.5 768.7L325.0 770.1L350.0 773.1L362.5 776.1L375.7 780.6L383.3 784.1L391.5 789.3L404.9 799.1L410.9 804.6L412.7 807.1L416.7 814.1L418.4 818.1L419.5 822.1L419.8 825.6L419.3 829.1L418.3 832.6L416.6 836.6L411.7 844.6L409.0 847.1L406.0 849.2L395.7 854.6L389.5 856.8L359.0 864.4L348.3 866.6L327.5 868.9L308.0 870.1L287.5 870.2L265.0 869.3L236.5 867.0L229.5 865.7L212.1 861.6L204.5 860.2L177.0 856.4L170.0 855.9L163.5 855.9L145.5 857.5L124.0 860.9L117.5 863.1L105.0 868.6L95.0 872.4L89.5 875.2ZM87.5 870.1L86.5 870.2L86.5 768.8L90.0 769.7L95.0 775.2L99.0 778.4L123.9 794.6L157.0 808.3L161.5 809.6L165.5 810.2L169.5 810.0L173.5 809.0L192.0 800.6L209.0 794.6L223.9 788.6L232.0 786.0L239.5 784.4L271.0 780.8L285.0 779.9L298.0 779.6L308.0 779.9L318.5 780.8L343.5 784.5L353.0 786.7L362.5 790.0L377.5 796.8L383.8 800.6L388.5 804.6L392.2 809.6L396.5 817.1L398.4 823.1L398.2 828.1L396.2 834.1L391.4 842.1L387.8 846.1L382.5 849.4L375.9 852.1L366.0 855.1L356.5 856.9L346.0 858.1L328.5 859.5L300.5 860.9L274.5 860.4L237.0 858.2L220.0 855.8L200.0 851.0L187.1 847.1L173.0 841.4L169.0 840.5L165.5 840.4L158.0 841.8L143.7 847.1L126.0 852.4L117.2 855.6L102.7 860.1L99.0 861.8L95.5 863.9L90.0 869.5L87.5 870.1ZM88.5 861.7L86.5 862.0L86.5 778.0L89.0 778.6L90.0 779.3L95.0 786.7L98.0 789.9L102.6 794.1L112.2 801.6L116.4 805.6L125.9 818.6L127.7 822.1L128.3 824.6L127.7 828.1L125.8 832.1L121.2 838.6L115.9 845.1L110.0 849.4L95.0 857.3L90.0 861.1L88.5 861.7ZM310.5 854.1L292.5 854.5L270.0 853.5L240.5 850.6L230.0 848.5L224.3 846.6L220.2 844.6L216.2 841.6L210.5 836.6L206.8 832.6L204.3 829.1L203.2 826.1L203.5 823.1L204.7 820.6L207.4 817.1L218.5 806.9L223.7 803.6L231.0 800.5L239.0 798.4L260.5 795.2L277.5 793.4L293.0 792.6L305.5 792.7L318.5 794.0L339.0 797.5L351.0 800.3L358.0 803.1L363.8 806.6L371.2 813.6L375.2 819.1L376.5 822.1L377.0 825.1L376.5 828.1L375.3 831.1L373.1 834.6L369.7 838.6L364.7 843.1L361.6 845.1L354.5 848.0L345.5 850.1L327.0 852.7L310.5 854.1ZM88.5 856.2L86.5 856.4L86.5 788.8L89.0 789.5L90.0 790.4L94.5 798.5L100.2 806.1L106.3 817.6L107.5 821.1L108.0 824.6L107.7 828.6L106.4 832.6L100.6 843.6L94.5 850.4L91.2 854.6L90.0 855.6L88.5 856.2ZM303.0 843.1L293.0 843.2L282.0 842.2L271.0 840.4L260.2 837.6L250.5 834.1L243.9 830.6L241.4 828.6L240.3 827.1L239.7 825.6L239.8 824.1L241.5 821.6L245.8 818.6L252.5 815.6L260.5 812.9L269.5 810.5L279.0 808.7L288.0 807.6L297.0 807.1L303.5 807.4L310.0 808.2L317.0 809.8L324.0 812.0L330.6 814.6L336.5 817.6L340.6 820.6L342.6 823.1L343.0 825.6L341.5 828.7L337.6 832.1L332.5 835.1L325.5 838.1L318.0 840.5L310.5 842.1L303.0 843.1ZM88.5 848.6L86.5 849.1L86.5 800.1L89.5 801.4L91.4 805.1L94.2 816.6L95.3 824.1L94.7 831.1L92.0 843.5L90.5 846.9L88.5 848.6ZM87.0 830.1L86.5 830.5L86.5 819.9L88.0 821.6L88.8 824.6L88.4 827.6L87.0 830.1Z" fill="none" stroke="#1a1a1a" stroke-width="0.8" stroke-linejoin="round"/></g><path d="M117.4 992.3v-5.5M117.4 570.6v5.5M193.5 992.3v-5.5M193.5 570.6v5.5M269.6 992.3v-5.5M269.6 570.6v5.5M345.7 992.3v-5.5M345.7 570.6v5.5M421.8 992.3v-5.5M421.8 570.6v5.5M497.9 992.3v-5.5M497.9 570.6v5.5M574.0 992.3v-5.5M574.0 570.6v5.5M86.5 646.6h5.5M646.5 646.6h-5.5M86.5 726.6h5.5M646.5 726.6h-5.5M86.5 806.6h5.5M646.5 806.6h-5.5M86.5 886.6h5.5M646.5 886.6h-5.5M86.5 966.6h5.5M646.5 966.6h-5.5" stroke="#3a4a4a" stroke-width="1.1" fill="none"/><rect x="86.5" y="570.6" width="560.0" height="421.69999999999993" fill="none" stroke="#555f5f" stroke-width="1"/><text x="116.9" y="1027.6" text-anchor="middle">260</text><text x="193.0" y="1027.6" text-anchor="middle">280</text><text x="269.1" y="1027.6" text-anchor="middle">300</text><text x="345.2" y="1027.6" text-anchor="middle">320</text><text x="421.3" y="1027.6" text-anchor="middle">340</text><text x="497.4" y="1027.6" text-anchor="middle">360</text><text x="573.5" y="1027.6" text-anchor="middle">380</text><text x="76.5" y="656.2" text-anchor="end">500</text><text x="76.5" y="736.2" text-anchor="end">450</text><text x="76.5" y="816.2" text-anchor="end">400</text><text x="76.5" y="896.2" text-anchor="end">350</text><text x="76.5" y="976.2" text-anchor="end">300</text><text x="367.5" y="1065.6" text-anchor="middle" font-size="28.3">Ex. (nm)</text><text transform="translate(21.9,781.5) rotate(-90)" text-anchor="middle" font-size="28.3">Em. (nm)</text><text x="535" y="960" font-size="24.5" fill="#000">C3</text><text x="11" y="546.6" font-size="30" font-weight="bold" fill="#000">C</text></g>
<g font-family="Liberation Sans, sans-serif" font-size="26.8" fill="#262626"><clipPath id="clipD"><rect x="776.4" y="564.8" width="561.8000000000001" height="422.5"/></clipPath><rect x="776.4" y="564.8" width="561.8000000000001" height="422.5" fill="#00ffff"/><g clip-path="url(#clipD)"><path d="M848.9 913.8L834.4 914.1L804.4 911.3L797.9 910.3L794.1 909.3L791.9 908.3L790.9 906.8L791.8 905.8L793.9 904.8L801.4 903.1L824.9 900.6L838.9 899.7L851.4 900.3L859.4 901.7L865.4 904.0L867.4 905.3L868.2 906.3L868.3 907.3L867.3 908.8L861.9 911.6L855.9 913.0L848.9 913.8ZM887.4 987.3L860.9 987.7L776.4 987.6L776.1 987.3L776.1 978.8L776.4 943.8L783.0 939.8L789.4 933.9L796.4 928.5L801.6 925.8L808.4 923.5L822.4 920.2L835.9 918.7L842.9 918.7L850.4 919.3L856.9 920.9L859.9 922.3L861.9 924.0L873.6 939.3L879.4 944.8L880.7 946.8L883.4 952.8L885.9 956.8L887.4 961.8L889.0 977.3L888.7 983.8L887.8 987.3L887.4 987.3Z" fill="#1fe0ff" fill-rule="evenodd"/><path d="M881.4 987.3L850.4 987.6L776.4 987.4L776.4 957.0L783.8 952.8L788.9 948.7L791.9 946.7L796.4 944.9L801.9 943.7L824.4 940.5L837.9 939.2L850.9 940.1L859.4 942.0L862.9 943.5L867.3 946.3L873.5 952.8L877.4 955.8L880.1 959.3L882.7 969.8L883.8 977.8L883.4 983.3L881.4 987.3Z" fill="#3dc2ff" fill-rule="evenodd"/><path d="M875.4 987.3L838.4 987.6L780.5 987.3L776.4 982.9L776.4 974.5L782.7 960.8L785.0 958.3L789.5 955.8L795.4 954.1L827.4 946.9L838.4 945.8L849.9 946.6L854.8 947.8L859.9 950.3L863.5 952.8L869.9 956.3L872.5 958.3L873.7 959.8L875.1 962.8L877.4 969.8L878.9 977.8L878.8 980.8L878.2 983.8L875.9 987.3L875.4 987.3Z" fill="#5ca3ff" fill-rule="evenodd"/><path d="M869.9 987.3L788.5 987.3L783.9 983.3L783.0 980.3L782.9 977.8L784.9 971.3L788.9 964.3L792.4 960.4L796.3 958.3L807.9 955.8L827.4 953.5L838.9 952.8L851.4 953.5L857.4 954.6L861.4 955.8L866.1 958.8L868.4 961.8L872.6 971.3L874.2 978.3L873.4 983.3L869.9 987.3Z" fill="#7b84ff" fill-rule="evenodd"/><path d="M863.9 987.3L799.6 987.3L791.6 983.8L790.0 981.3L789.4 978.3L791.4 973.3L795.0 968.8L801.4 963.8L807.4 960.8L816.6 958.3L827.9 956.6L838.9 955.9L850.9 956.6L856.5 957.8L860.7 959.8L862.9 962.7L867.3 971.3L869.2 977.3L869.0 980.8L868.0 983.8L863.9 987.3Z" fill="#9a65ff" fill-rule="evenodd"/><path d="M857.4 987.3L817.6 987.3L805.4 984.6L801.9 983.4L799.3 980.8L798.6 978.3L800.4 975.4L804.4 971.8L823.4 962.3L828.4 960.8L835.9 959.6L840.9 959.4L846.4 960.0L851.9 961.2L855.4 963.2L860.4 968.1L863.0 972.8L864.5 978.3L863.6 982.8L861.9 984.8L857.4 987.3Z" fill="#b847ff" fill-rule="evenodd"/><path d="M844.4 986.3L835.9 986.5L820.5 984.3L817.4 983.3L815.3 981.8L813.5 979.8L813.2 978.3L815.2 975.8L820.6 971.8L825.9 969.4L831.9 967.6L836.4 966.6L839.9 966.4L844.4 966.9L850.4 968.4L854.0 970.3L857.1 973.3L859.4 977.3L859.7 978.8L859.4 980.3L857.6 983.3L855.9 984.3L851.4 985.5L844.4 986.3Z" fill="#d728ff" fill-rule="evenodd"/><path d="M841.9 982.9L837.9 983.0L833.9 982.1L830.4 980.3L829.4 979.3L829.4 978.3L830.3 977.3L833.4 975.7L836.4 974.7L838.9 974.3L841.9 974.6L845.4 975.6L848.2 976.8L849.9 978.3L849.9 979.3L848.2 980.8L845.4 982.0L841.9 982.9Z" fill="#f609ff" fill-rule="evenodd"/><path d="M848.9 913.8L834.4 914.1L804.4 911.3L797.9 910.3L794.1 909.3L791.9 908.3L790.9 906.8L791.8 905.8L793.9 904.8L801.4 903.1L824.9 900.6L838.9 899.7L851.4 900.3L859.4 901.7L865.4 904.0L867.4 905.3L868.2 906.3L868.3 907.3L867.3 908.8L861.9 911.6L855.9 913.0L848.9 913.8ZM887.4 987.3L860.9 987.7L776.4 987.6L776.1 987.3L776.1 978.8L776.4 943.8L783.0 939.8L789.4 933.9L796.4 928.5L801.6 925.8L808.4 923.5L822.4 920.2L835.9 918.7L842.9 918.7L850.4 919.3L856.9 920.9L859.9 922.3L861.9 924.0L873.6 939.3L879.4 944.8L880.7 946.8L883.4 952.8L885.9 956.8L887.4 961.8L889.0 977.3L888.7 983.8L887.8 987.3L887.4 987.3ZM881.4 987.3L850.4 987.6L776.4 987.4L776.4 957.0L783.8 952.8L788.9 948.7L791.9 946.7L796.4 944.9L801.9 943.7L824.4 940.5L837.9 939.2L850.9 940.1L859.4 942.0L862.9 943.5L867.3 946.3L873.5 952.8L877.4 955.8L880.1 959.3L882.7 969.8L883.8 977.8L883.4 983.3L881.4 987.3ZM875.4 987.3L838.4 987.6L780.5 987.3L776.4 982.9L776.4 974.5L782.7 960.8L785.0 958.3L789.5 955.8L795.4 954.1L827.4 946.9L838.4 945.8L849.9 946.6L854.8 947.8L859.9 950.3L863.5 952.8L869.9 956.3L872.5 958.3L873.7 959.8L875.1 962.8L877.4 969.8L878.9 977.8L878.8 980.8L878.2 983.8L875.9 987.3L875.4 987.3ZM869.9 987.3L788.5 987.3L783.9 983.3L783.0 980.3L782.9 977.8L784.9 971.3L788.9 964.3L792.4 960.4L796.3 958.3L807.9 955.8L827.4 953.5L838.9 952.8L851.4 953.5L857.4 954.6L861.4 955.8L866.1 958.8L868.4 961.8L872.6 971.3L874.2 978.3L873.4 983.3L869.9 987.3ZM863.9 987.3L799.6 987.3L791.6 983.8L790.0 981.3L789.4 978.3L791.4 973.3L795.0 968.8L801.4 963.8L807.4 960.8L816.6 958.3L827.9 956.6L838.9 955.9L850.9 956.6L856.5 957.8L860.7 959.8L862.9 962.7L867.3 971.3L869.2 977.3L869.0 980.8L868.0 983.8L863.9 987.3ZM857.4 987.3L817.6 987.3L805.4 984.6L801.9 983.4L799.3 980.8L798.6 978.3L800.4 975.4L804.4 971.8L823.4 962.3L828.4 960.8L835.9 959.6L840.9 959.4L846.4 960.0L851.9 961.2L855.4 963.2L860.4 968.1L863.0 972.8L864.5 978.3L863.6 982.8L861.9 984.8L857.4 987.3ZM844.4 986.3L835.9 986.5L820.5 984.3L817.4 983.3L815.3 981.8L813.5 979.8L813.2 978.3L815.2 975.8L820.6 971.8L825.9 969.4L831.9 967.6L836.4 966.6L839.9 966.4L844.4 966.9L850.4 968.4L854.0 970.3L857.1 973.3L859.4 977.3L859.7 978.8L859.4 980.3L857.6 983.3L855.9 984.3L851.4 985.5L844.4 986.3ZM841.9 982.9L837.9 983.0L833.9 982.1L830.4 980.3L829.4 979.3L829.4 978.3L830.3 977.3L833.4 975.7L836.4 974.7L838.9 974.3L841.9 974.6L845.4 975.6L848.2 976.8L849.9 978.3L849.9 979.3L848.2 980.8L845.4 982.0L841.9 982.9Z" fill="none" stroke="#1a1a1a" stroke-width="0.8" stroke-linejoin="round"/></g><path d="M807.4 987.3v-5.5M807.4 564.8v5.5M883.5 987.3v-5.5M883.5 564.8v5.5M959.7 987.3v-5.5M959.7 564.8v5.5M1035.8 987.3v-5.5M1035.8 564.8v5.5M1112.0 987.3v-5.5M1112.0 564.8v5.5M1188.2 987.3v-5.5M1188.2 564.8v5.5M1264.3 987.3v-5.5M1264.3 564.8v5.5M776.4 641.2h5.5M1338.2 641.2h-5.5M776.4 720.8h5.5M1338.2 720.8h-5.5M776.4 800.4h5.5M1338.2 800.4h-5.5M776.4 880.0h5.5M1338.2 880.0h-5.5M776.4 959.6h5.5M1338.2 959.6h-5.5" stroke="#3a4a4a" stroke-width="1.1" fill="none"/><rect x="776.4" y="564.8" width="561.8000000000001" height="422.5" fill="none" stroke="#555f5f" stroke-width="1"/><text x="806.9" y="1022.6" text-anchor="middle">260</text><text x="883.0" y="1022.6" text-anchor="middle">280</text><text x="959.2" y="1022.6" text-anchor="middle">300</text><text x="1035.3" y="1022.6" text-anchor="middle">320</text><text x="1111.5" y="1022.6" text-anchor="middle">340</text><text x="1187.7" y="1022.6" text-anchor="middle">360</text><text x="1263.8" y="1022.6" text-anchor="middle">380</text><text x="766.4" y="650.8" text-anchor="end">500</text><text x="766.4" y="730.4" text-anchor="end">450</text><text x="766.4" y="810.0" text-anchor="end">400</text><text x="766.4" y="889.6" text-anchor="end">350</text><text x="766.4" y="969.2" text-anchor="end">300</text><text x="1058.3" y="1060.6" text-anchor="middle" font-size="28.3">Ex. (nm)</text><text transform="translate(711.8,776.0) rotate(-90)" text-anchor="middle" font-size="28.3">Em. (nm)</text><text x="1225" y="956" font-size="24.5" fill="#000">C4</text><text x="700" y="547" font-size="30" font-weight="bold" fill="#000">D</text></g>
<g font-family="Liberation Serif, serif" font-size="25" fill="#262626"><path d="M174.3 1328.3v-12.5M174.3 1104.0v12.5M243.4 1328.3v-12.5M243.4 1104.0v12.5M312.4 1328.3v-12.5M312.4 1104.0v12.5M381.4 1328.3v-12.5M381.4 1104.0v12.5M450.5 1328.3v-12.5M450.5 1104.0v12.5M519.5 1328.3v-12.5M519.5 1104.0v12.5M588.6 1328.3v-12.5M588.6 1104.0v12.5M657.6 1328.3v-12.5M657.6 1104.0v12.5M726.7 1328.3v-12.5M726.7 1104.0v12.5M795.8 1328.3v-12.5M795.8 1104.0v12.5M864.8 1328.3v-12.5M864.8 1104.0v12.5M933.8 1328.3v-12.5M933.8 1104.0v12.5M1002.9 1328.3v-12.5M1002.9 1104.0v12.5M1072.0 1328.3v-12.5M1072.0 1104.0v12.5M1141.0 1328.3v-12.5M1141.0 1104.0v12.5M1210.0 1328.3v-12.5M1210.0 1104.0v12.5M1279.1 1328.3v-12.5M1279.1 1104.0v12.5M1348.1 1328.3v-12.5M1348.1 1104.0v12.5M106.0 1328.3h12.5M1348.1 1328.3h-12.5M106.0 1276.9h12.5M1348.1 1276.9h-12.5M106.0 1225.5h12.5M1348.1 1225.5h-12.5M106.0 1174.2h12.5M1348.1 1174.2h-12.5M106.0 1122.8h12.5M1348.1 1122.8h-12.5" stroke="#262626" stroke-width="2" fill="none"/><rect x="106.0" y="1104.0" width="1242.1" height="224.29999999999995" fill="none" stroke="#262626" stroke-width="2.2"/><polyline points="174.3,1237.8 243.4,1254.8 312.4,1245.5 381.4,1178.6 450.5,1159.9 519.5,1105.0 588.6,1175.4 657.6,1209.3 726.7,1231.0 795.8,1251.9 864.8,1257.3 933.8,1268.5 1002.9,1254.8 1072.0,1261.0 1141.0,1222.8 1210.0,1277.7 1279.1,1274.7 1348.1,1289.2" fill="none" stroke="#0072BD" stroke-width="2" stroke-linejoin="round"/><circle cx="174.3" cy="1237.8" r="5.3" fill="none" stroke="#0072BD" stroke-width="1.8"/><circle cx="243.4" cy="1254.8" r="5.3" fill="none" stroke="#0072BD" stroke-width="1.8"/><circle cx="312.4" cy="1245.5" r="5.3" fill="none" stroke="#0072BD" stroke-width="1.8"/><circle cx="381.4" cy="1178.6" r="5.3" fill="none" stroke="#0072BD" stroke-width="1.8"/><circle cx="450.5" cy="1159.9" r="5.3" fill="none" stroke="#0072BD" stroke-width="1.8"/><circle cx="519.5" cy="1105.0" r="5.3" fill="none" stroke="#0072BD" stroke-width="1.8"/><circle cx="588.6" cy="1175.4" r="5.3" fill="none" stroke="#0072BD" stroke-width="1.8"/><circle cx="657.6" cy="1209.3" r="5.3" fill="none" stroke="#0072BD" stroke-width="1.8"/><circle cx="726.7" cy="1231.0" r="5.3" fill="none" stroke="#0072BD" stroke-width="1.8"/><circle cx="795.8" cy="1251.9" r="5.3" fill="none" stroke="#0072BD" stroke-width="1.8"/><circle cx="864.8" cy="1257.3" r="5.3" fill="none" stroke="#0072BD" stroke-width="1.8"/><circle cx="933.8" cy="1268.5" r="5.3" fill="none" stroke="#0072BD" stroke-width="1.8"/><circle cx="1002.9" cy="1254.8" r="5.3" fill="none" stroke="#0072BD" stroke-width="1.8"/><circle cx="1072.0" cy="1261.0" r="5.3" fill="none" stroke="#0072BD" stroke-width="1.8"/><circle cx="1141.0" cy="1222.8" r="5.3" fill="none" stroke="#0072BD" stroke-width="1.8"/><circle cx="1210.0" cy="1277.7" r="5.3" fill="none" stroke="#0072BD" stroke-width="1.8"/><circle cx="1279.1" cy="1274.7" r="5.3" fill="none" stroke="#0072BD" stroke-width="1.8"/><circle cx="1348.1" cy="1289.2" r="5.3" fill="none" stroke="#0072BD" stroke-width="1.8"/><polyline points="174.3,1207.3 243.4,1211.1 312.4,1199.8 381.4,1197.3 450.5,1185.4 519.5,1172.4 588.6,1214.2 657.6,1230.3 726.7,1261.0 795.8,1267.2 864.8,1281.8 933.8,1297.7 1002.9,1304.7 1072.0,1315.9 1141.0,1314.7 1210.0,1320.9 1279.1,1319.7 1348.1,1322.2" fill="none" stroke="#D95319" stroke-width="2" stroke-linejoin="round"/><path d="M174.3 1200.0L179.5 1207.3L174.3 1214.6L169.1 1207.3Z" fill="none" stroke="#D95319" stroke-width="1.8"/><path d="M243.4 1203.8L248.6 1211.1L243.4 1218.4L238.2 1211.1Z" fill="none" stroke="#D95319" stroke-width="1.8"/><path d="M312.4 1192.5L317.6 1199.8L312.4 1207.1L307.2 1199.8Z" fill="none" stroke="#D95319" stroke-width="1.8"/><path d="M381.4 1190.0L386.6 1197.3L381.4 1204.6L376.2 1197.3Z" fill="none" stroke="#D95319" stroke-width="1.8"/><path d="M450.5 1178.1L455.7 1185.4L450.5 1192.7L445.3 1185.4Z" fill="none" stroke="#D95319" stroke-width="1.8"/><path d="M519.5 1165.1L524.8 1172.4L519.5 1179.7L514.3 1172.4Z" fill="none" stroke="#D95319" stroke-width="1.8"/><path d="M588.6 1206.9L593.8 1214.2L588.6 1221.5L583.4 1214.2Z" fill="none" stroke="#D95319" stroke-width="1.8"/><path d="M657.6 1223.0L662.9 1230.3L657.6 1237.6L652.4 1230.3Z" fill="none" stroke="#D95319" stroke-width="1.8"/><path d="M726.7 1253.7L731.9 1261.0L726.7 1268.3L721.5 1261.0Z" fill="none" stroke="#D95319" stroke-width="1.8"/><path d="M795.8 1259.9L801.0 1267.2L795.8 1274.5L790.5 1267.2Z" fill="none" stroke="#D95319" stroke-width="1.8"/><path d="M864.8 1274.5L870.0 1281.8L864.8 1289.1L859.6 1281.8Z" fill="none" stroke="#D95319" stroke-width="1.8"/><path d="M933.8 1290.4L939.0 1297.7L933.8 1305.0L928.6 1297.7Z" fill="none" stroke="#D95319" stroke-width="1.8"/><path d="M1002.9 1297.4L1008.1 1304.7L1002.9 1312.0L997.7 1304.7Z" fill="none" stroke="#D95319" stroke-width="1.8"/><path d="M1072.0 1308.6L1077.2 1315.9L1072.0 1323.2L1066.8 1315.9Z" fill="none" stroke="#D95319" stroke-width="1.8"/><path d="M1141.0 1307.4L1146.2 1314.7L1141.0 1322.0L1135.8 1314.7Z" fill="none" stroke="#D95319" stroke-width="1.8"/><path d="M1210.0 1313.6L1215.2 1320.9L1210.0 1328.2L1204.8 1320.9Z" fill="none" stroke="#D95319" stroke-width="1.8"/><path d="M1279.1 1312.4L1284.3 1319.7L1279.1 1327.0L1273.9 1319.7Z" fill="none" stroke="#D95319" stroke-width="1.8"/><path d="M1348.1 1314.9L1353.3 1322.2L1348.1 1329.5L1342.9 1322.2Z" fill="none" stroke="#D95319" stroke-width="1.8"/><polyline points="174.3,1231.0 243.4,1232.3 312.4,1221.1 381.4,1224.1 450.5,1213.6 519.5,1212.3 588.6,1240.6 657.6,1253.5 726.7,1273.0 795.8,1278.5 864.8,1287.2 933.8,1300.2 1002.9,1304.2 1072.0,1312.9 1141.0,1313.9 1210.0,1319.7 1279.1,1318.4 1348.1,1322.2" fill="none" stroke="#EDB120" stroke-width="2" stroke-linejoin="round"/><path d="M168.1 1227.4L180.5 1227.4L174.3 1238.4Z" fill="none" stroke="#EDB120" stroke-width="1.8"/><path d="M237.2 1228.7L249.6 1228.7L243.4 1239.7Z" fill="none" stroke="#EDB120" stroke-width="1.8"/><path d="M306.2 1217.5L318.6 1217.5L312.4 1228.5Z" fill="none" stroke="#EDB120" stroke-width="1.8"/><path d="M375.2 1220.5L387.6 1220.5L381.4 1231.5Z" fill="none" stroke="#EDB120" stroke-width="1.8"/><path d="M444.3 1210.0L456.7 1210.0L450.5 1221.0Z" fill="none" stroke="#EDB120" stroke-width="1.8"/><path d="M513.3 1208.7L525.8 1208.7L519.5 1219.7Z" fill="none" stroke="#EDB120" stroke-width="1.8"/><path d="M582.4 1237.0L594.8 1237.0L588.6 1248.0Z" fill="none" stroke="#EDB120" stroke-width="1.8"/><path d="M651.4 1249.9L663.9 1249.9L657.6 1260.9Z" fill="none" stroke="#EDB120" stroke-width="1.8"/><path d="M720.5 1269.4L732.9 1269.4L726.7 1280.4Z" fill="none" stroke="#EDB120" stroke-width="1.8"/><path d="M789.5 1274.9L802.0 1274.9L795.8 1285.9Z" fill="none" stroke="#EDB120" stroke-width="1.8"/><path d="M858.6 1283.6L871.0 1283.6L864.8 1294.6Z" fill="none" stroke="#EDB120" stroke-width="1.8"/><path d="M927.6 1296.6L940.0 1296.6L933.8 1307.6Z" fill="none" stroke="#EDB120" stroke-width="1.8"/><path d="M996.7 1300.6L1009.1 1300.6L1002.9 1311.6Z" fill="none" stroke="#EDB120" stroke-width="1.8"/><path d="M1065.8 1309.3L1078.2 1309.3L1072.0 1320.3Z" fill="none" stroke="#EDB120" stroke-width="1.8"/><path d="M1134.8 1310.3L1147.2 1310.3L1141.0 1321.3Z" fill="none" stroke="#EDB120" stroke-width="1.8"/><path d="M1203.8 1316.1L1216.2 1316.1L1210.0 1327.1Z" fill="none" stroke="#EDB120" stroke-width="1.8"/><path d="M1272.9 1314.8L1285.3 1314.8L1279.1 1325.8Z" fill="none" stroke="#EDB120" stroke-width="1.8"/><path d="M1341.9 1318.6L1354.3 1318.6L1348.1 1329.6Z" fill="none" stroke="#EDB120" stroke-width="1.8"/><polyline points="174.3,1259.8 243.4,1265.5 312.4,1264.0 381.4,1244.3 450.5,1244.8 519.5,1259.8 588.6,1257.3 657.6,1274.7 726.7,1266.0 795.8,1279.7 864.8,1258.5 933.8,1265.2 1002.9,1268.0 1072.0,1244.8 1141.0,1256.1 1210.0,1259.7 1279.1,1251.0 1348.1,1272.2" fill="none" stroke="#7E2F8E" stroke-width="2" stroke-linejoin="round"/><path d="M168.1 1263.4L180.5 1263.4L174.3 1252.4Z" fill="none" stroke="#7E2F8E" stroke-width="1.8"/><path d="M237.2 1269.1L249.6 1269.1L243.4 1258.1Z" fill="none" stroke="#7E2F8E" stroke-width="1.8"/><path d="M306.2 1267.6L318.6 1267.6L312.4 1256.6Z" fill="none" stroke="#7E2F8E" stroke-width="1.8"/><path d="M375.2 1247.9L387.6 1247.9L381.4 1236.9Z" fill="none" stroke="#7E2F8E" stroke-width="1.8"/><path d="M444.3 1248.4L456.7 1248.4L450.5 1237.4Z" fill="none" stroke="#7E2F8E" stroke-width="1.8"/><path d="M513.3 1263.4L525.8 1263.4L519.5 1252.4Z" fill="none" stroke="#7E2F8E" stroke-width="1.8"/><path d="M582.4 1260.9L594.8 1260.9L588.6 1249.9Z" fill="none" stroke="#7E2F8E" stroke-width="1.8"/><path d="M651.4 1278.3L663.9 1278.3L657.6 1267.3Z" fill="none" stroke="#7E2F8E" stroke-width="1.8"/><path d="M720.5 1269.6L732.9 1269.6L726.7 1258.6Z" fill="none" stroke="#7E2F8E" stroke-width="1.8"/><path d="M789.5 1283.3L802.0 1283.3L795.8 1272.3Z" fill="none" stroke="#7E2F8E" stroke-width="1.8"/><path d="M858.6 1262.1L871.0 1262.1L864.8 1251.1Z" fill="none" stroke="#7E2F8E" stroke-width="1.8"/><path d="M927.6 1268.8L940.0 1268.8L933.8 1257.8Z" fill="none" stroke="#7E2F8E" stroke-width="1.8"/><path d="M996.7 1271.6L1009.1 1271.6L1002.9 1260.6Z" fill="none" stroke="#7E2F8E" stroke-width="1.8"/><path d="M1065.8 1248.4L1078.2 1248.4L1072.0 1237.4Z" fill="none" stroke="#7E2F8E" stroke-width="1.8"/><path d="M1134.8 1259.7L1147.2 1259.7L1141.0 1248.7Z" fill="none" stroke="#7E2F8E" stroke-width="1.8"/><path d="M1203.8 1263.3L1216.2 1263.3L1210.0 1252.3Z" fill="none" stroke="#7E2F8E" stroke-width="1.8"/><path d="M1272.9 1254.6L1285.3 1254.6L1279.1 1243.6Z" fill="none" stroke="#7E2F8E" stroke-width="1.8"/><path d="M1341.9 1275.8L1354.3 1275.8L1348.1 1264.8Z" fill="none" stroke="#7E2F8E" stroke-width="1.8"/><text x="96.5" y="1337.1" text-anchor="end">0</text><text x="96.5" y="1285.7" text-anchor="end">0.5</text><text x="96.5" y="1234.3" text-anchor="end">1</text><text x="96.5" y="1183.0" text-anchor="end">1.5</text><text x="96.5" y="1131.6" text-anchor="end">2</text><text transform="translate(183.3,1338.1) rotate(-90)" text-anchor="end" font-size="25.5">YE 1</text><text transform="translate(252.4,1338.1) rotate(-90)" text-anchor="end" font-size="25.5">YE 2</text><text transform="translate(321.4,1338.1) rotate(-90)" text-anchor="end" font-size="25.5">YE 3</text><text transform="translate(390.4,1338.1) rotate(-90)" text-anchor="end" font-size="25.5">YE 4</text><text transform="translate(459.5,1338.1) rotate(-90)" text-anchor="end" font-size="25.5">YE 5</text><text transform="translate(528.5,1338.1) rotate(-90)" text-anchor="end" font-size="25.5">YE 6</text><text transform="translate(597.6,1338.1) rotate(-90)" text-anchor="end" font-size="25.5">YE 7</text><text transform="translate(666.6,1338.1) rotate(-90)" text-anchor="end" font-size="25.5">YE 8</text><text transform="translate(735.7,1338.1) rotate(-90)" text-anchor="end" font-size="25.5">YE 9</text><text transform="translate(804.8,1338.1) rotate(-90)" text-anchor="end" font-size="25.5">YE10</text><text transform="translate(873.8,1338.1) rotate(-90)" text-anchor="end" font-size="25.5">YE11</text><text transform="translate(942.8,1338.1) rotate(-90)" text-anchor="end" font-size="25.5">YE12</text><text transform="translate(1011.9,1338.1) rotate(-90)" text-anchor="end" font-size="25.5">YE13</text><text transform="translate(1081.0,1338.1) rotate(-90)" text-anchor="end" font-size="25.5">YE14</text><text transform="translate(1150.0,1338.1) rotate(-90)" text-anchor="end" font-size="25.5">YE15</text><text transform="translate(1219.0,1338.1) rotate(-90)" text-anchor="end" font-size="25.5">YE16</text><text transform="translate(1288.1,1338.1) rotate(-90)" text-anchor="end" font-size="25.5">YE17</text><text transform="translate(1357.1,1338.1) rotate(-90)" text-anchor="end" font-size="25.5">YE18</text><text x="726" y="1423.4" text-anchor="middle" font-size="27.8">Stations</text><text transform="translate(42.4,1216.3) rotate(-90)" text-anchor="middle" font-size="28.5">F<tspan font-size="21" dy="13.4">max</tspan><tspan dy="-13.4"> (RU)</tspan></text><path d="M1248.8 1133.9h50.2" stroke="#0072BD" stroke-width="2"/><circle cx="1273.9" cy="1133.9" r="5.3" fill="none" stroke="#0072BD" stroke-width="1.8"/><text x="1303.3" y="1142.2" font-size="23" fill="#000">C1</text><path d="M1248.8 1159.9h50.2" stroke="#D95319" stroke-width="2"/><path d="M1273.9 1152.6L1279.1 1159.9L1273.9 1167.2L1268.7 1159.9Z" fill="none" stroke="#D95319" stroke-width="1.8"/><text x="1303.3" y="1168.2" font-size="23" fill="#000">C2</text><path d="M1248.8 1185.9h50.2" stroke="#EDB120" stroke-width="2"/><path d="M1267.7 1182.3L1280.1 1182.3L1273.9 1193.3Z" fill="none" stroke="#EDB120" stroke-width="1.8"/><text x="1303.3" y="1194.2" font-size="23" fill="#000">C3</text><path d="M1248.8 1211.9h50.2" stroke="#7E2F8E" stroke-width="2"/><path d="M1267.7 1215.5L1280.1 1215.5L1273.9 1204.5Z" fill="none" stroke="#7E2F8E" stroke-width="1.8"/><text x="1303.3" y="1220.2" font-size="23" fill="#000">C4</text><text x="10" y="1080.3" font-family="Liberation Sans, sans-serif" font-size="30" font-weight="bold" fill="#000">E</text></g>
<g font-family="Liberation Serif, serif" font-size="25" fill="#262626"><path d="M174.3 1688.5v-12.5M174.3 1466.4v12.5M243.4 1688.5v-12.5M243.4 1466.4v12.5M312.4 1688.5v-12.5M312.4 1466.4v12.5M381.4 1688.5v-12.5M381.4 1466.4v12.5M450.5 1688.5v-12.5M450.5 1466.4v12.5M519.5 1688.5v-12.5M519.5 1466.4v12.5M588.6 1688.5v-12.5M588.6 1466.4v12.5M657.6 1688.5v-12.5M657.6 1466.4v12.5M726.7 1688.5v-12.5M726.7 1466.4v12.5M795.8 1688.5v-12.5M795.8 1466.4v12.5M864.8 1688.5v-12.5M864.8 1466.4v12.5M933.8 1688.5v-12.5M933.8 1466.4v12.5M1002.9 1688.5v-12.5M1002.9 1466.4v12.5M1072.0 1688.5v-12.5M1072.0 1466.4v12.5M1141.0 1688.5v-12.5M1141.0 1466.4v12.5M1210.0 1688.5v-12.5M1210.0 1466.4v12.5M1279.1 1688.5v-12.5M1279.1 1466.4v12.5M1348.1 1688.5v-12.5M1348.1 1466.4v12.5M106.0 1688.5h12.5M1348.1 1688.5h-12.5M106.0 1588.3h12.5M1348.1 1588.3h-12.5M106.0 1488.1h12.5M1348.1 1488.1h-12.5" stroke="#262626" stroke-width="2" fill="none"/><rect x="106.0" y="1466.4" width="1242.1" height="222.0999999999999" fill="none" stroke="#262626" stroke-width="2.2"/><polyline points="174.3,1643.5 243.4,1549.4 312.4,1589.8 381.4,1616.0 450.5,1594.0 519.5,1466.3 588.6,1625.2 657.6,1641.0 726.7,1613.0 795.8,1623.0 864.8,1626.7 933.8,1491.2 1002.9,1646.7 1072.0,1688.5 1141.0,1548.6 1210.0,1688.5 1279.1,1688.5 1348.1,1688.5" fill="none" stroke="#0072BD" stroke-width="2" stroke-linejoin="round"/><circle cx="174.3" cy="1643.5" r="5.3" fill="none" stroke="#0072BD" stroke-width="1.8"/><circle cx="243.4" cy="1549.4" r="5.3" fill="none" stroke="#0072BD" stroke-width="1.8"/><circle cx="312.4" cy="1589.8" r="5.3" fill="none" stroke="#0072BD" stroke-width="1.8"/><circle cx="381.4" cy="1616.0" r="5.3" fill="none" stroke="#0072BD" stroke-width="1.8"/><circle cx="450.5" cy="1594.0" r="5.3" fill="none" stroke="#0072BD" stroke-width="1.8"/><circle cx="519.5" cy="1466.3" r="5.3" fill="none" stroke="#0072BD" stroke-width="1.8"/><circle cx="588.6" cy="1625.2" r="5.3" fill="none" stroke="#0072BD" stroke-width="1.8"/><circle cx="657.6" cy="1641.0" r="5.3" fill="none" stroke="#0072BD" stroke-width="1.8"/><circle cx="726.7" cy="1613.0" r="5.3" fill="none" stroke="#0072BD" stroke-width="1.8"/><circle cx="795.8" cy="1623.0" r="5.3" fill="none" stroke="#0072BD" stroke-width="1.8"/><circle cx="864.8" cy="1626.7" r="5.3" fill="none" stroke="#0072BD" stroke-width="1.8"/><circle cx="933.8" cy="1491.2" r="5.3" fill="none" stroke="#0072BD" stroke-width="1.8"/><circle cx="1002.9" cy="1646.7" r="5.3" fill="none" stroke="#0072BD" stroke-width="1.8"/><circle cx="1072.0" cy="1688.5" r="5.3" fill="none" stroke="#0072BD" stroke-width="1.8"/><circle cx="1141.0" cy="1548.6" r="5.3" fill="none" stroke="#0072BD" stroke-width="1.8"/><circle cx="1210.0" cy="1688.5" r="5.3" fill="none" stroke="#0072BD" stroke-width="1.8"/><circle cx="1279.1" cy="1688.5" r="5.3" fill="none" stroke="#0072BD" stroke-width="1.8"/><circle cx="1348.1" cy="1688.5" r="5.3" fill="none" stroke="#0072BD" stroke-width="1.8"/><polyline points="174.3,1531.1 243.4,1497.9 312.4,1507.9 381.4,1572.3 450.5,1536.2 519.5,1478.1 588.6,1590.3 657.6,1592.3 726.7,1626.5 795.8,1611.0 864.8,1637.7 933.8,1644.2 1002.9,1658.4 1072.0,1618.6 1141.0,1628.0 1210.0,1660.2 1279.1,1679.7 1348.1,1657.6" fill="none" stroke="#D95319" stroke-width="2" stroke-linejoin="round"/><path d="M174.3 1523.8L179.5 1531.1L174.3 1538.4L169.1 1531.1Z" fill="none" stroke="#D95319" stroke-width="1.8"/><path d="M243.4 1490.6L248.6 1497.9L243.4 1505.2L238.2 1497.9Z" fill="none" stroke="#D95319" stroke-width="1.8"/><path d="M312.4 1500.6L317.6 1507.9L312.4 1515.2L307.2 1507.9Z" fill="none" stroke="#D95319" stroke-width="1.8"/><path d="M381.4 1565.0L386.6 1572.3L381.4 1579.6L376.2 1572.3Z" fill="none" stroke="#D95319" stroke-width="1.8"/><path d="M450.5 1528.9L455.7 1536.2L450.5 1543.5L445.3 1536.2Z" fill="none" stroke="#D95319" stroke-width="1.8"/><path d="M519.5 1470.8L524.8 1478.1L519.5 1485.4L514.3 1478.1Z" fill="none" stroke="#D95319" stroke-width="1.8"/><path d="M588.6 1583.0L593.8 1590.3L588.6 1597.6L583.4 1590.3Z" fill="none" stroke="#D95319" stroke-width="1.8"/><path d="M657.6 1585.0L662.9 1592.3L657.6 1599.6L652.4 1592.3Z" fill="none" stroke="#D95319" stroke-width="1.8"/><path d="M726.7 1619.2L731.9 1626.5L726.7 1633.8L721.5 1626.5Z" fill="none" stroke="#D95319" stroke-width="1.8"/><path d="M795.8 1603.7L801.0 1611.0L795.8 1618.3L790.5 1611.0Z" fill="none" stroke="#D95319" stroke-width="1.8"/><path d="M864.8 1630.4L870.0 1637.7L864.8 1645.0L859.6 1637.7Z" fill="none" stroke="#D95319" stroke-width="1.8"/><path d="M933.8 1636.9L939.0 1644.2L933.8 1651.5L928.6 1644.2Z" fill="none" stroke="#D95319" stroke-width="1.8"/><path d="M1002.9 1651.1L1008.1 1658.4L1002.9 1665.7L997.7 1658.4Z" fill="none" stroke="#D95319" stroke-width="1.8"/><path d="M1072.0 1611.3L1077.2 1618.6L1072.0 1625.9L1066.8 1618.6Z" fill="none" stroke="#D95319" stroke-width="1.8"/><path d="M1141.0 1620.7L1146.2 1628.0L1141.0 1635.3L1135.8 1628.0Z" fill="none" stroke="#D95319" stroke-width="1.8"/><path d="M1210.0 1652.9L1215.2 1660.2L1210.0 1667.5L1204.8 1660.2Z" fill="none" stroke="#D95319" stroke-width="1.8"/><path d="M1279.1 1672.4L1284.3 1679.7L1279.1 1687.0L1273.9 1679.7Z" fill="none" stroke="#D95319" stroke-width="1.8"/><path d="M1348.1 1650.3L1353.3 1657.6L1348.1 1664.9L1342.9 1657.6Z" fill="none" stroke="#D95319" stroke-width="1.8"/><text x="96.5" y="1697.3" text-anchor="end">0</text><text x="96.5" y="1597.1" text-anchor="end">0.005</text><text x="96.5" y="1496.9" text-anchor="end">0.01</text><text transform="translate(183.3,1698.3) rotate(-90)" text-anchor="end" font-size="25.5">YE 1</text><text transform="translate(252.4,1698.3) rotate(-90)" text-anchor="end" font-size="25.5">YE 2</text><text transform="translate(321.4,1698.3) rotate(-90)" text-anchor="end" font-size="25.5">YE 3</text><text transform="translate(390.4,1698.3) rotate(-90)" text-anchor="end" font-size="25.5">YE 4</text><text transform="translate(459.5,1698.3) rotate(-90)" text-anchor="end" font-size="25.5">YE 5</text><text transform="translate(528.5,1698.3) rotate(-90)" text-anchor="end" font-size="25.5">YE 6</text><text transform="translate(597.6,1698.3) rotate(-90)" text-anchor="end" font-size="25.5">YE 7</text><text transform="translate(666.6,1698.3) rotate(-90)" text-anchor="end" font-size="25.5">YE 8</text><text transform="translate(735.7,1698.3) rotate(-90)" text-anchor="end" font-size="25.5">YE 9</text><text transform="translate(804.8,1698.3) rotate(-90)" text-anchor="end" font-size="25.5">YE10</text><text transform="translate(873.8,1698.3) rotate(-90)" text-anchor="end" font-size="25.5">YE11</text><text transform="translate(942.8,1698.3) rotate(-90)" text-anchor="end" font-size="25.5">YE12</text><text transform="translate(1011.9,1698.3) rotate(-90)" text-anchor="end" font-size="25.5">YE13</text><text transform="translate(1081.0,1698.3) rotate(-90)" text-anchor="end" font-size="25.5">YE14</text><text transform="translate(1150.0,1698.3) rotate(-90)" text-anchor="end" font-size="25.5">YE15</text><text transform="translate(1219.0,1698.3) rotate(-90)" text-anchor="end" font-size="25.5">YE16</text><text transform="translate(1288.1,1698.3) rotate(-90)" text-anchor="end" font-size="25.5">YE17</text><text transform="translate(1357.1,1698.3) rotate(-90)" text-anchor="end" font-size="25.5">YE18</text><text x="726" y="1783.4" text-anchor="middle" font-size="27.8">Stations</text><text transform="translate(28.9,1578.75) rotate(-90)" text-anchor="middle" font-size="27.5">Relative Abundance</text><path d="M1234.5 1494.4h50.3" stroke="#0072BD" stroke-width="2"/><circle cx="1259.7" cy="1494.4" r="5.3" fill="none" stroke="#0072BD" stroke-width="1.8"/><text x="1289.1" y="1502.7" font-size="23" fill="#000">O3S</text><path d="M1234.5 1521.0h50.3" stroke="#D95319" stroke-width="2"/><path d="M1259.7 1513.7L1264.9 1521.0L1259.7 1528.3L1254.5 1521.0Z" fill="none" stroke="#D95319" stroke-width="1.8"/><text x="1289.1" y="1529.3" font-size="23" fill="#000">O5S</text><text x="10.5" y="1423.5" font-family="Liberation Sans, sans-serif" font-size="30" font-weight="bold" fill="#000">F</text></g>
</svg></body></html>
